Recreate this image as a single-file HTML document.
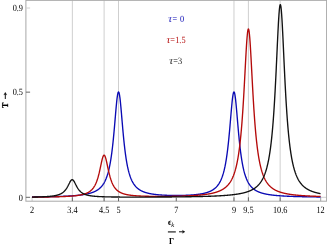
<!DOCTYPE html>
<html><head><meta charset="utf-8"><title>plot</title><style>html,body{margin:0;padding:0;background:#fff}body{width:327px;height:245px;overflow:hidden}</style></head><body>
<svg width="327" height="245" viewBox="0 0 327 245" style="display:block;will-change:transform">
<rect width="100%" height="100%" fill="#fff"/>
<line x1="72.35" x2="72.35" y1="0.35" y2="201.20" stroke="#cfcfcf" stroke-width="1"/>
<line x1="104.10" x2="104.10" y1="0.35" y2="201.20" stroke="#cfcfcf" stroke-width="1"/>
<line x1="118.53" x2="118.53" y1="0.35" y2="201.20" stroke="#cfcfcf" stroke-width="1"/>
<line x1="233.97" x2="233.97" y1="0.35" y2="201.20" stroke="#cfcfcf" stroke-width="1"/>
<line x1="248.40" x2="248.40" y1="0.35" y2="201.20" stroke="#cfcfcf" stroke-width="1"/>
<line x1="280.15" x2="280.15" y1="0.35" y2="201.20" stroke="#cfcfcf" stroke-width="1"/>
<line x1="32.10" x2="32.10" y1="197.30" y2="201.20" stroke="#cfcfcf" stroke-width="1"/>
<line x1="320.70" x2="320.70" y1="197.30" y2="201.20" stroke="#a0a0a0" stroke-width="1"/>
<line x1="320.55" x2="326.60" y1="197.30" y2="197.30" stroke="#cfcfcf" stroke-width="1"/>
<path d="M31.95 197.00 L32.09 197.00 L32.24 196.99 L32.38 196.99 L32.53 196.99 L32.67 196.99 L32.82 196.99 L32.96 196.99 L33.10 196.98 L33.25 196.98 L33.39 196.98 L33.54 196.98 L33.68 196.98 L33.83 196.98 L33.97 196.97 L34.11 196.97 L34.26 196.97 L34.40 196.97 L34.55 196.97 L34.69 196.96 L34.84 196.96 L34.98 196.96 L35.12 196.96 L35.27 196.96 L35.41 196.96 L35.56 196.95 L35.70 196.95 L35.85 196.95 L35.99 196.95 L36.13 196.95 L36.28 196.94 L36.42 196.94 L36.57 196.94 L36.71 196.94 L36.86 196.94 L37.00 196.93 L37.14 196.93 L37.29 196.93 L37.43 196.93 L37.58 196.93 L37.72 196.92 L37.87 196.92 L38.01 196.92 L38.15 196.92 L38.30 196.92 L38.44 196.91 L38.59 196.91 L38.73 196.91 L38.88 196.91 L39.02 196.91 L39.16 196.90 L39.31 196.90 L39.45 196.90 L39.60 196.90 L39.74 196.89 L39.89 196.89 L40.03 196.89 L40.18 196.89 L40.32 196.89 L40.46 196.88 L40.61 196.88 L40.75 196.88 L40.90 196.88 L41.04 196.87 L41.19 196.87 L41.33 196.87 L41.47 196.87 L41.62 196.87 L41.76 196.86 L41.91 196.86 L42.05 196.86 L42.20 196.86 L42.34 196.85 L42.48 196.85 L42.63 196.85 L42.77 196.85 L42.92 196.84 L43.06 196.84 L43.21 196.84 L43.35 196.84 L43.49 196.83 L43.64 196.83 L43.78 196.83 L43.93 196.83 L44.07 196.82 L44.22 196.82 L44.36 196.82 L44.50 196.82 L44.65 196.81 L44.79 196.81 L44.94 196.81 L45.08 196.81 L45.23 196.80 L45.37 196.80 L45.51 196.80 L45.66 196.79 L45.80 196.79 L45.95 196.79 L46.09 196.79 L46.24 196.78 L46.38 196.78 L46.52 196.78 L46.67 196.78 L46.81 196.77 L46.96 196.77 L47.10 196.77 L47.25 196.76 L47.39 196.76 L47.53 196.76 L47.68 196.75 L47.82 196.75 L47.97 196.75 L48.11 196.75 L48.26 196.74 L48.40 196.74 L48.54 196.74 L48.69 196.73 L48.83 196.73 L48.98 196.73 L49.12 196.72 L49.27 196.72 L49.41 196.72 L49.55 196.71 L49.70 196.71 L49.84 196.71 L49.99 196.70 L50.13 196.70 L50.28 196.70 L50.42 196.70 L50.56 196.69 L50.71 196.69 L50.85 196.69 L51.00 196.68 L51.14 196.68 L51.29 196.67 L51.43 196.67 L51.57 196.67 L51.72 196.66 L51.86 196.66 L52.01 196.66 L52.15 196.65 L52.30 196.65 L52.44 196.65 L52.58 196.64 L52.73 196.64 L52.87 196.64 L53.02 196.63 L53.16 196.63 L53.31 196.62 L53.45 196.62 L53.59 196.62 L53.74 196.61 L53.88 196.61 L54.03 196.61 L54.17 196.60 L54.32 196.60 L54.46 196.59 L54.61 196.59 L54.75 196.59 L54.89 196.58 L55.04 196.58 L55.18 196.57 L55.33 196.57 L55.47 196.57 L55.62 196.56 L55.76 196.56 L55.90 196.55 L56.05 196.55 L56.19 196.54 L56.34 196.54 L56.48 196.54 L56.63 196.53 L56.77 196.53 L56.91 196.52 L57.06 196.52 L57.20 196.51 L57.35 196.51 L57.49 196.50 L57.64 196.50 L57.78 196.50 L57.92 196.49 L58.07 196.49 L58.21 196.48 L58.36 196.48 L58.50 196.47 L58.65 196.47 L58.79 196.46 L58.93 196.46 L59.08 196.45 L59.22 196.45 L59.37 196.44 L59.51 196.44 L59.66 196.43 L59.80 196.43 L59.94 196.42 L60.09 196.42 L60.23 196.41 L60.38 196.41 L60.52 196.40 L60.67 196.40 L60.81 196.39 L60.95 196.39 L61.10 196.38 L61.24 196.37 L61.39 196.37 L61.53 196.36 L61.68 196.36 L61.82 196.35 L61.96 196.35 L62.11 196.34 L62.25 196.33 L62.40 196.33 L62.54 196.32 L62.69 196.32 L62.83 196.31 L62.97 196.31 L63.12 196.30 L63.26 196.29 L63.41 196.29 L63.55 196.28 L63.70 196.28 L63.84 196.27 L63.98 196.26 L64.13 196.26 L64.27 196.25 L64.42 196.24 L64.56 196.24 L64.71 196.23 L64.85 196.22 L64.99 196.22 L65.14 196.21 L65.28 196.20 L65.43 196.20 L65.57 196.19 L65.72 196.18 L65.86 196.18 L66.00 196.17 L66.15 196.16 L66.29 196.16 L66.44 196.15 L66.58 196.14 L66.73 196.13 L66.87 196.13 L67.01 196.12 L67.16 196.11 L67.30 196.10 L67.45 196.10 L67.59 196.09 L67.74 196.08 L67.88 196.07 L68.03 196.07 L68.17 196.06 L68.31 196.05 L68.46 196.04 L68.60 196.03 L68.75 196.02 L68.89 196.02 L69.04 196.01 L69.18 196.00 L69.32 195.99 L69.47 195.98 L69.61 195.97 L69.76 195.97 L69.90 195.96 L70.05 195.95 L70.19 195.94 L70.33 195.93 L70.48 195.92 L70.62 195.91 L70.77 195.90 L70.91 195.89 L71.06 195.88 L71.20 195.87 L71.34 195.87 L71.49 195.86 L71.63 195.85 L71.78 195.84 L71.92 195.83 L72.07 195.82 L72.21 195.81 L72.35 195.80 L72.50 195.79 L72.64 195.78 L72.79 195.76 L72.93 195.75 L73.08 195.74 L73.22 195.73 L73.36 195.72 L73.51 195.71 L73.65 195.70 L73.80 195.69 L73.94 195.68 L74.09 195.67 L74.23 195.65 L74.37 195.64 L74.52 195.63 L74.66 195.62 L74.81 195.61 L74.95 195.60 L75.10 195.58 L75.24 195.57 L75.38 195.56 L75.53 195.55 L75.67 195.53 L75.82 195.52 L75.96 195.51 L76.11 195.50 L76.25 195.48 L76.39 195.47 L76.54 195.46 L76.68 195.44 L76.83 195.43 L76.97 195.42 L77.12 195.40 L77.26 195.39 L77.40 195.37 L77.55 195.36 L77.69 195.34 L77.84 195.33 L77.98 195.31 L78.13 195.30 L78.27 195.28 L78.41 195.27 L78.56 195.25 L78.70 195.24 L78.85 195.22 L78.99 195.21 L79.14 195.19 L79.28 195.17 L79.42 195.16 L79.57 195.14 L79.71 195.12 L79.86 195.11 L80.00 195.09 L80.15 195.07 L80.29 195.06 L80.43 195.04 L80.58 195.02 L80.72 195.00 L80.87 194.98 L81.01 194.97 L81.16 194.95 L81.30 194.93 L81.44 194.91 L81.59 194.89 L81.73 194.87 L81.88 194.85 L82.02 194.83 L82.17 194.81 L82.31 194.79 L82.45 194.77 L82.60 194.75 L82.74 194.73 L82.89 194.71 L83.03 194.68 L83.18 194.66 L83.32 194.64 L83.47 194.62 L83.61 194.59 L83.75 194.57 L83.90 194.55 L84.04 194.53 L84.19 194.50 L84.33 194.48 L84.48 194.45 L84.62 194.43 L84.76 194.40 L84.91 194.38 L85.05 194.35 L85.20 194.33 L85.34 194.30 L85.49 194.27 L85.63 194.25 L85.77 194.22 L85.92 194.19 L86.06 194.16 L86.21 194.14 L86.35 194.11 L86.50 194.08 L86.64 194.05 L86.78 194.02 L86.93 193.99 L87.07 193.96 L87.22 193.93 L87.36 193.90 L87.51 193.86 L87.65 193.83 L87.79 193.80 L87.94 193.77 L88.08 193.73 L88.23 193.70 L88.37 193.66 L88.52 193.63 L88.66 193.59 L88.80 193.56 L88.95 193.52 L89.09 193.48 L89.24 193.45 L89.38 193.41 L89.53 193.37 L89.67 193.33 L89.81 193.29 L89.96 193.25 L90.10 193.21 L90.25 193.17 L90.39 193.13 L90.54 193.09 L90.68 193.04 L90.82 193.00 L90.97 192.95 L91.11 192.91 L91.26 192.86 L91.40 192.82 L91.55 192.77 L91.69 192.72 L91.83 192.67 L91.98 192.62 L92.12 192.57 L92.27 192.52 L92.41 192.47 L92.56 192.42 L92.70 192.37 L92.84 192.31 L92.99 192.26 L93.13 192.20 L93.28 192.14 L93.42 192.09 L93.57 192.03 L93.71 191.97 L93.85 191.91 L94.00 191.85 L94.14 191.78 L94.29 191.72 L94.43 191.66 L94.58 191.59 L94.72 191.52 L94.86 191.46 L95.01 191.39 L95.15 191.32 L95.30 191.25 L95.44 191.17 L95.59 191.10 L95.73 191.02 L95.87 190.95 L96.02 190.87 L96.16 190.79 L96.31 190.71 L96.45 190.63 L96.60 190.54 L96.74 190.46 L96.89 190.37 L97.03 190.28 L97.17 190.19 L97.32 190.10 L97.46 190.01 L97.61 189.92 L97.75 189.82 L97.90 189.72 L98.04 189.62 L98.18 189.52 L98.33 189.41 L98.47 189.31 L98.62 189.20 L98.76 189.09 L98.91 188.97 L99.05 188.86 L99.19 188.74 L99.34 188.62 L99.48 188.50 L99.63 188.38 L99.77 188.25 L99.92 188.12 L100.06 187.99 L100.20 187.85 L100.35 187.71 L100.49 187.57 L100.64 187.43 L100.78 187.28 L100.93 187.13 L101.07 186.98 L101.21 186.82 L101.36 186.66 L101.50 186.50 L101.65 186.33 L101.79 186.16 L101.94 185.98 L102.08 185.81 L102.22 185.62 L102.37 185.44 L102.51 185.24 L102.66 185.05 L102.80 184.85 L102.95 184.64 L103.09 184.43 L103.23 184.22 L103.38 184.00 L103.52 183.77 L103.67 183.54 L103.81 183.31 L103.96 183.07 L104.10 182.82 L104.24 182.56 L104.39 182.30 L104.53 182.04 L104.68 181.76 L104.82 181.48 L104.97 181.20 L105.11 180.90 L105.25 180.60 L105.40 180.29 L105.54 179.97 L105.69 179.64 L105.83 179.31 L105.98 178.96 L106.12 178.61 L106.26 178.24 L106.41 177.87 L106.55 177.49 L106.70 177.09 L106.84 176.69 L106.99 176.27 L107.13 175.85 L107.27 175.41 L107.42 174.95 L107.56 174.49 L107.71 174.01 L107.85 173.52 L108.00 173.01 L108.14 172.49 L108.28 171.96 L108.43 171.41 L108.57 170.84 L108.72 170.26 L108.86 169.66 L109.01 169.04 L109.15 168.40 L109.29 167.75 L109.44 167.07 L109.58 166.38 L109.73 165.66 L109.87 164.92 L110.02 164.16 L110.16 163.38 L110.30 162.58 L110.45 161.75 L110.59 160.89 L110.74 160.01 L110.88 159.11 L111.03 158.17 L111.17 157.21 L111.31 156.22 L111.46 155.21 L111.60 154.16 L111.75 153.08 L111.89 151.98 L112.04 150.84 L112.18 149.67 L112.33 148.46 L112.47 147.23 L112.61 145.96 L112.76 144.66 L112.90 143.33 L113.05 141.96 L113.19 140.56 L113.34 139.13 L113.48 137.67 L113.62 136.18 L113.77 134.65 L113.91 133.10 L114.06 131.52 L114.20 129.91 L114.35 128.28 L114.49 126.63 L114.63 124.96 L114.78 123.28 L114.92 121.58 L115.07 119.88 L115.21 118.17 L115.36 116.46 L115.50 114.75 L115.64 113.06 L115.79 111.38 L115.93 109.73 L116.08 108.11 L116.22 106.52 L116.37 104.98 L116.51 103.49 L116.65 102.06 L116.80 100.69 L116.94 99.40 L117.09 98.19 L117.23 97.07 L117.38 96.04 L117.52 95.12 L117.66 94.31 L117.81 93.61 L117.95 93.03 L118.10 92.58 L118.24 92.25 L118.39 92.05 L118.53 91.99 L118.67 92.05 L118.82 92.25 L118.96 92.57 L119.11 93.03 L119.25 93.60 L119.40 94.30 L119.54 95.11 L119.68 96.03 L119.83 97.06 L119.97 98.17 L120.12 99.38 L120.26 100.67 L120.41 102.04 L120.55 103.47 L120.69 104.96 L120.84 106.50 L120.98 108.09 L121.13 109.71 L121.27 111.36 L121.42 113.03 L121.56 114.73 L121.70 116.43 L121.85 118.14 L121.99 119.84 L122.14 121.55 L122.28 123.24 L122.43 124.93 L122.57 126.60 L122.71 128.25 L122.86 129.87 L123.00 131.48 L123.15 133.06 L123.29 134.61 L123.44 136.13 L123.58 137.62 L123.72 139.09 L123.87 140.52 L124.01 141.91 L124.16 143.28 L124.30 144.61 L124.45 145.91 L124.59 147.17 L124.73 148.41 L124.88 149.61 L125.02 150.78 L125.17 151.92 L125.31 153.02 L125.46 154.10 L125.60 155.14 L125.75 156.16 L125.89 157.15 L126.03 158.10 L126.18 159.04 L126.32 159.94 L126.47 160.82 L126.61 161.67 L126.76 162.50 L126.90 163.30 L127.04 164.09 L127.19 164.84 L127.33 165.58 L127.48 166.29 L127.62 166.99 L127.77 167.66 L127.91 168.32 L128.05 168.95 L128.20 169.57 L128.34 170.17 L128.49 170.75 L128.63 171.31 L128.78 171.86 L128.92 172.40 L129.06 172.92 L129.21 173.42 L129.35 173.91 L129.50 174.39 L129.64 174.85 L129.79 175.30 L129.93 175.74 L130.07 176.17 L130.22 176.58 L130.36 176.98 L130.51 177.38 L130.65 177.76 L130.80 178.13 L130.94 178.49 L131.08 178.84 L131.23 179.19 L131.37 179.52 L131.52 179.85 L131.66 180.16 L131.81 180.47 L131.95 180.78 L132.09 181.07 L132.24 181.36 L132.38 181.63 L132.53 181.91 L132.67 182.17 L132.82 182.43 L132.96 182.68 L133.10 182.93 L133.25 183.17 L133.39 183.40 L133.54 183.63 L133.68 183.86 L133.83 184.08 L133.97 184.29 L134.11 184.50 L134.26 184.70 L134.40 184.90 L134.55 185.09 L134.69 185.28 L134.84 185.47 L134.98 185.65 L135.12 185.83 L135.27 186.00 L135.41 186.17 L135.56 186.34 L135.70 186.50 L135.85 186.66 L135.99 186.81 L136.13 186.96 L136.28 187.11 L136.42 187.26 L136.57 187.40 L136.71 187.54 L136.86 187.68 L137.00 187.81 L137.14 187.94 L137.29 188.07 L137.43 188.19 L137.58 188.32 L137.72 188.44 L137.87 188.56 L138.01 188.67 L138.15 188.79 L138.30 188.90 L138.44 189.01 L138.59 189.11 L138.73 189.22 L138.88 189.32 L139.02 189.42 L139.16 189.52 L139.31 189.62 L139.45 189.71 L139.60 189.81 L139.74 189.90 L139.89 189.99 L140.03 190.08 L140.17 190.16 L140.32 190.25 L140.46 190.33 L140.61 190.41 L140.75 190.49 L140.90 190.57 L141.04 190.65 L141.19 190.73 L141.33 190.80 L141.47 190.87 L141.62 190.95 L141.76 191.02 L141.91 191.09 L142.05 191.16 L142.20 191.22 L142.34 191.29 L142.48 191.35 L142.63 191.42 L142.77 191.48 L142.92 191.54 L143.06 191.60 L143.21 191.66 L143.35 191.72 L143.49 191.78 L143.64 191.84 L143.78 191.89 L143.93 191.95 L144.07 192.00 L144.22 192.05 L144.36 192.11 L144.50 192.16 L144.65 192.21 L144.79 192.26 L144.94 192.31 L145.08 192.36 L145.23 192.40 L145.37 192.45 L145.51 192.50 L145.66 192.54 L145.80 192.59 L145.95 192.63 L146.09 192.67 L146.24 192.72 L146.38 192.76 L146.52 192.80 L146.67 192.84 L146.81 192.88 L146.96 192.92 L147.10 192.96 L147.25 193.00 L147.39 193.03 L147.53 193.07 L147.68 193.11 L147.82 193.14 L147.97 193.18 L148.11 193.21 L148.26 193.25 L148.40 193.28 L148.54 193.32 L148.69 193.35 L148.83 193.38 L148.98 193.41 L149.12 193.45 L149.27 193.48 L149.41 193.51 L149.55 193.54 L149.70 193.57 L149.84 193.60 L149.99 193.63 L150.13 193.65 L150.28 193.68 L150.42 193.71 L150.56 193.74 L150.71 193.76 L150.85 193.79 L151.00 193.82 L151.14 193.84 L151.29 193.87 L151.43 193.89 L151.57 193.92 L151.72 193.94 L151.86 193.97 L152.01 193.99 L152.15 194.01 L152.30 194.04 L152.44 194.06 L152.58 194.08 L152.73 194.10 L152.87 194.13 L153.02 194.15 L153.16 194.17 L153.31 194.19 L153.45 194.21 L153.59 194.23 L153.74 194.25 L153.88 194.27 L154.03 194.29 L154.17 194.31 L154.32 194.33 L154.46 194.35 L154.60 194.37 L154.75 194.39 L154.89 194.40 L155.04 194.42 L155.18 194.44 L155.33 194.46 L155.47 194.47 L155.62 194.49 L155.76 194.51 L155.90 194.52 L156.05 194.54 L156.19 194.56 L156.34 194.57 L156.48 194.59 L156.63 194.60 L156.77 194.62 L156.91 194.63 L157.06 194.65 L157.20 194.66 L157.35 194.68 L157.49 194.69 L157.64 194.71 L157.78 194.72 L157.92 194.73 L158.07 194.75 L158.21 194.76 L158.36 194.77 L158.50 194.79 L158.65 194.80 L158.79 194.81 L158.93 194.82 L159.08 194.84 L159.22 194.85 L159.37 194.86 L159.51 194.87 L159.66 194.88 L159.80 194.90 L159.94 194.91 L160.09 194.92 L160.23 194.93 L160.38 194.94 L160.52 194.95 L160.67 194.96 L160.81 194.97 L160.95 194.98 L161.10 194.99 L161.24 195.00 L161.39 195.01 L161.53 195.02 L161.68 195.03 L161.82 195.04 L161.96 195.05 L162.11 195.06 L162.25 195.07 L162.40 195.08 L162.54 195.09 L162.69 195.10 L162.83 195.10 L162.97 195.11 L163.12 195.12 L163.26 195.13 L163.41 195.14 L163.55 195.14 L163.70 195.15 L163.84 195.16 L163.98 195.17 L164.13 195.18 L164.27 195.18 L164.42 195.19 L164.56 195.20 L164.71 195.20 L164.85 195.21 L164.99 195.22 L165.14 195.22 L165.28 195.23 L165.43 195.24 L165.57 195.24 L165.72 195.25 L165.86 195.26 L166.00 195.26 L166.15 195.27 L166.29 195.27 L166.44 195.28 L166.58 195.29 L166.73 195.29 L166.87 195.30 L167.01 195.30 L167.16 195.31 L167.30 195.31 L167.45 195.32 L167.59 195.32 L167.74 195.33 L167.88 195.33 L168.02 195.34 L168.17 195.34 L168.31 195.35 L168.46 195.35 L168.60 195.35 L168.75 195.36 L168.89 195.36 L169.03 195.37 L169.18 195.37 L169.32 195.37 L169.47 195.38 L169.61 195.38 L169.76 195.39 L169.90 195.39 L170.05 195.39 L170.19 195.40 L170.33 195.40 L170.48 195.40 L170.62 195.41 L170.77 195.41 L170.91 195.41 L171.06 195.41 L171.20 195.42 L171.34 195.42 L171.49 195.42 L171.63 195.43 L171.78 195.43 L171.92 195.43 L172.07 195.43 L172.21 195.43 L172.35 195.44 L172.50 195.44 L172.64 195.44 L172.79 195.44 L172.93 195.44 L173.08 195.45 L173.22 195.45 L173.36 195.45 L173.51 195.45 L173.65 195.45 L173.80 195.45 L173.94 195.46 L174.09 195.46 L174.23 195.46 L174.37 195.46 L174.52 195.46 L174.66 195.46 L174.81 195.46 L174.95 195.46 L175.10 195.46 L175.24 195.46 L175.38 195.46 L175.53 195.46 L175.67 195.46 L175.82 195.46 L175.96 195.46 L176.11 195.46 L176.25 195.46 L176.39 195.46 L176.54 195.46 L176.68 195.46 L176.83 195.46 L176.97 195.46 L177.12 195.46 L177.26 195.46 L177.40 195.46 L177.55 195.46 L177.69 195.46 L177.84 195.46 L177.98 195.46 L178.13 195.46 L178.27 195.46 L178.41 195.46 L178.56 195.46 L178.70 195.45 L178.85 195.45 L178.99 195.45 L179.14 195.45 L179.28 195.45 L179.42 195.45 L179.57 195.44 L179.71 195.44 L179.86 195.44 L180.00 195.44 L180.15 195.44 L180.29 195.43 L180.43 195.43 L180.58 195.43 L180.72 195.43 L180.87 195.43 L181.01 195.42 L181.16 195.42 L181.30 195.42 L181.44 195.41 L181.59 195.41 L181.73 195.41 L181.88 195.41 L182.02 195.40 L182.17 195.40 L182.31 195.40 L182.45 195.39 L182.60 195.39 L182.74 195.39 L182.89 195.38 L183.03 195.38 L183.18 195.37 L183.32 195.37 L183.46 195.37 L183.61 195.36 L183.75 195.36 L183.90 195.35 L184.04 195.35 L184.19 195.35 L184.33 195.34 L184.48 195.34 L184.62 195.33 L184.76 195.33 L184.91 195.32 L185.05 195.32 L185.20 195.31 L185.34 195.31 L185.49 195.30 L185.63 195.30 L185.77 195.29 L185.92 195.29 L186.06 195.28 L186.21 195.27 L186.35 195.27 L186.50 195.26 L186.64 195.26 L186.78 195.25 L186.93 195.24 L187.07 195.24 L187.22 195.23 L187.36 195.22 L187.51 195.22 L187.65 195.21 L187.79 195.20 L187.94 195.20 L188.08 195.19 L188.23 195.18 L188.37 195.18 L188.52 195.17 L188.66 195.16 L188.80 195.15 L188.95 195.14 L189.09 195.14 L189.24 195.13 L189.38 195.12 L189.53 195.11 L189.67 195.10 L189.81 195.10 L189.96 195.09 L190.10 195.08 L190.25 195.07 L190.39 195.06 L190.54 195.05 L190.68 195.04 L190.82 195.03 L190.97 195.02 L191.11 195.01 L191.26 195.00 L191.40 194.99 L191.55 194.98 L191.69 194.97 L191.83 194.96 L191.98 194.95 L192.12 194.94 L192.27 194.93 L192.41 194.92 L192.56 194.91 L192.70 194.90 L192.84 194.88 L192.99 194.87 L193.13 194.86 L193.28 194.85 L193.42 194.84 L193.57 194.82 L193.71 194.81 L193.85 194.80 L194.00 194.79 L194.14 194.77 L194.29 194.76 L194.43 194.75 L194.58 194.73 L194.72 194.72 L194.86 194.71 L195.01 194.69 L195.15 194.68 L195.30 194.66 L195.44 194.65 L195.59 194.63 L195.73 194.62 L195.87 194.60 L196.02 194.59 L196.16 194.57 L196.31 194.56 L196.45 194.54 L196.60 194.52 L196.74 194.51 L196.88 194.49 L197.03 194.47 L197.17 194.46 L197.32 194.44 L197.46 194.42 L197.61 194.40 L197.75 194.39 L197.89 194.37 L198.04 194.35 L198.18 194.33 L198.33 194.31 L198.47 194.29 L198.62 194.27 L198.76 194.25 L198.91 194.23 L199.05 194.21 L199.19 194.19 L199.34 194.17 L199.48 194.15 L199.63 194.13 L199.77 194.10 L199.92 194.08 L200.06 194.06 L200.20 194.04 L200.35 194.01 L200.49 193.99 L200.64 193.97 L200.78 193.94 L200.93 193.92 L201.07 193.89 L201.21 193.87 L201.36 193.84 L201.50 193.82 L201.65 193.79 L201.79 193.76 L201.94 193.74 L202.08 193.71 L202.22 193.68 L202.37 193.65 L202.51 193.63 L202.66 193.60 L202.80 193.57 L202.95 193.54 L203.09 193.51 L203.23 193.48 L203.38 193.45 L203.52 193.41 L203.67 193.38 L203.81 193.35 L203.96 193.32 L204.10 193.28 L204.24 193.25 L204.39 193.21 L204.53 193.18 L204.68 193.14 L204.82 193.11 L204.97 193.07 L205.11 193.03 L205.25 193.00 L205.40 192.96 L205.54 192.92 L205.69 192.88 L205.83 192.84 L205.98 192.80 L206.12 192.76 L206.26 192.72 L206.41 192.67 L206.55 192.63 L206.70 192.59 L206.84 192.54 L206.99 192.50 L207.13 192.45 L207.27 192.40 L207.42 192.36 L207.56 192.31 L207.71 192.26 L207.85 192.21 L208.00 192.16 L208.14 192.11 L208.28 192.05 L208.43 192.00 L208.57 191.95 L208.72 191.89 L208.86 191.84 L209.01 191.78 L209.15 191.72 L209.29 191.66 L209.44 191.60 L209.58 191.54 L209.73 191.48 L209.87 191.42 L210.02 191.35 L210.16 191.29 L210.30 191.22 L210.45 191.16 L210.59 191.09 L210.74 191.02 L210.88 190.95 L211.03 190.87 L211.17 190.80 L211.31 190.73 L211.46 190.65 L211.60 190.57 L211.75 190.49 L211.89 190.41 L212.04 190.33 L212.18 190.25 L212.32 190.16 L212.47 190.08 L212.61 189.99 L212.76 189.90 L212.90 189.81 L213.05 189.71 L213.19 189.62 L213.34 189.52 L213.48 189.42 L213.62 189.32 L213.77 189.22 L213.91 189.11 L214.06 189.01 L214.20 188.90 L214.35 188.79 L214.49 188.67 L214.63 188.56 L214.78 188.44 L214.92 188.32 L215.07 188.19 L215.21 188.07 L215.36 187.94 L215.50 187.81 L215.64 187.68 L215.79 187.54 L215.93 187.40 L216.08 187.26 L216.22 187.11 L216.37 186.96 L216.51 186.81 L216.65 186.66 L216.80 186.50 L216.94 186.34 L217.09 186.17 L217.23 186.00 L217.38 185.83 L217.52 185.65 L217.66 185.47 L217.81 185.28 L217.95 185.09 L218.10 184.90 L218.24 184.70 L218.39 184.50 L218.53 184.29 L218.67 184.08 L218.82 183.86 L218.96 183.63 L219.11 183.40 L219.25 183.17 L219.40 182.93 L219.54 182.68 L219.68 182.43 L219.83 182.17 L219.97 181.91 L220.12 181.63 L220.26 181.36 L220.41 181.07 L220.55 180.78 L220.69 180.47 L220.84 180.16 L220.98 179.85 L221.13 179.52 L221.27 179.19 L221.42 178.84 L221.56 178.49 L221.70 178.13 L221.85 177.76 L221.99 177.38 L222.14 176.98 L222.28 176.58 L222.43 176.17 L222.57 175.74 L222.71 175.30 L222.86 174.85 L223.00 174.39 L223.15 173.91 L223.29 173.42 L223.44 172.92 L223.58 172.40 L223.72 171.86 L223.87 171.31 L224.01 170.75 L224.16 170.17 L224.30 169.57 L224.45 168.95 L224.59 168.32 L224.73 167.66 L224.88 166.99 L225.02 166.29 L225.17 165.58 L225.31 164.84 L225.46 164.09 L225.60 163.30 L225.74 162.50 L225.89 161.67 L226.03 160.82 L226.18 159.94 L226.32 159.04 L226.47 158.10 L226.61 157.15 L226.75 156.16 L226.90 155.14 L227.04 154.10 L227.19 153.02 L227.33 151.92 L227.48 150.78 L227.62 149.61 L227.77 148.41 L227.91 147.17 L228.05 145.91 L228.20 144.61 L228.34 143.28 L228.49 141.91 L228.63 140.52 L228.78 139.09 L228.92 137.62 L229.06 136.13 L229.21 134.61 L229.35 133.06 L229.50 131.48 L229.64 129.87 L229.79 128.25 L229.93 126.60 L230.07 124.93 L230.22 123.24 L230.36 121.55 L230.51 119.84 L230.65 118.14 L230.80 116.43 L230.94 114.73 L231.08 113.03 L231.23 111.36 L231.37 109.71 L231.52 108.09 L231.66 106.50 L231.81 104.96 L231.95 103.47 L232.09 102.04 L232.24 100.67 L232.38 99.38 L232.53 98.17 L232.67 97.06 L232.82 96.03 L232.96 95.11 L233.10 94.30 L233.25 93.60 L233.39 93.03 L233.54 92.57 L233.68 92.25 L233.83 92.05 L233.97 91.99 L234.11 92.05 L234.26 92.25 L234.40 92.58 L234.55 93.03 L234.69 93.61 L234.84 94.31 L234.98 95.12 L235.12 96.04 L235.27 97.07 L235.41 98.19 L235.56 99.40 L235.70 100.69 L235.85 102.06 L235.99 103.49 L236.13 104.98 L236.28 106.52 L236.42 108.11 L236.57 109.73 L236.71 111.38 L236.86 113.06 L237.00 114.75 L237.14 116.46 L237.29 118.17 L237.43 119.88 L237.58 121.58 L237.72 123.28 L237.87 124.96 L238.01 126.63 L238.15 128.28 L238.30 129.91 L238.44 131.52 L238.59 133.10 L238.73 134.65 L238.88 136.18 L239.02 137.67 L239.16 139.13 L239.31 140.56 L239.45 141.96 L239.60 143.33 L239.74 144.66 L239.89 145.96 L240.03 147.23 L240.17 148.46 L240.32 149.67 L240.46 150.84 L240.61 151.98 L240.75 153.08 L240.90 154.16 L241.04 155.21 L241.18 156.22 L241.33 157.21 L241.47 158.17 L241.62 159.11 L241.76 160.01 L241.91 160.89 L242.05 161.75 L242.20 162.58 L242.34 163.38 L242.48 164.16 L242.63 164.92 L242.77 165.66 L242.92 166.38 L243.06 167.07 L243.21 167.75 L243.35 168.40 L243.49 169.04 L243.64 169.66 L243.78 170.26 L243.93 170.84 L244.07 171.41 L244.22 171.96 L244.36 172.49 L244.50 173.01 L244.65 173.52 L244.79 174.01 L244.94 174.49 L245.08 174.95 L245.23 175.41 L245.37 175.85 L245.51 176.27 L245.66 176.69 L245.80 177.09 L245.95 177.49 L246.09 177.87 L246.24 178.24 L246.38 178.61 L246.52 178.96 L246.67 179.31 L246.81 179.64 L246.96 179.97 L247.10 180.29 L247.25 180.60 L247.39 180.90 L247.53 181.20 L247.68 181.48 L247.82 181.76 L247.97 182.04 L248.11 182.30 L248.26 182.56 L248.40 182.82 L248.54 183.07 L248.69 183.31 L248.83 183.54 L248.98 183.77 L249.12 184.00 L249.27 184.22 L249.41 184.43 L249.55 184.64 L249.70 184.85 L249.84 185.05 L249.99 185.24 L250.13 185.44 L250.28 185.62 L250.42 185.81 L250.56 185.98 L250.71 186.16 L250.85 186.33 L251.00 186.50 L251.14 186.66 L251.29 186.82 L251.43 186.98 L251.57 187.13 L251.72 187.28 L251.86 187.43 L252.01 187.57 L252.15 187.71 L252.30 187.85 L252.44 187.99 L252.58 188.12 L252.73 188.25 L252.87 188.38 L253.02 188.50 L253.16 188.62 L253.31 188.74 L253.45 188.86 L253.59 188.97 L253.74 189.09 L253.88 189.20 L254.03 189.31 L254.17 189.41 L254.32 189.52 L254.46 189.62 L254.60 189.72 L254.75 189.82 L254.89 189.92 L255.04 190.01 L255.18 190.10 L255.33 190.19 L255.47 190.28 L255.61 190.37 L255.76 190.46 L255.90 190.54 L256.05 190.63 L256.19 190.71 L256.34 190.79 L256.48 190.87 L256.63 190.95 L256.77 191.02 L256.91 191.10 L257.06 191.17 L257.20 191.25 L257.35 191.32 L257.49 191.39 L257.64 191.46 L257.78 191.52 L257.92 191.59 L258.07 191.66 L258.21 191.72 L258.36 191.78 L258.50 191.85 L258.65 191.91 L258.79 191.97 L258.93 192.03 L259.08 192.09 L259.22 192.14 L259.37 192.20 L259.51 192.26 L259.66 192.31 L259.80 192.37 L259.94 192.42 L260.09 192.47 L260.23 192.52 L260.38 192.57 L260.52 192.62 L260.67 192.67 L260.81 192.72 L260.95 192.77 L261.10 192.82 L261.24 192.86 L261.39 192.91 L261.53 192.95 L261.68 193.00 L261.82 193.04 L261.96 193.09 L262.11 193.13 L262.25 193.17 L262.40 193.21 L262.54 193.25 L262.69 193.29 L262.83 193.33 L262.97 193.37 L263.12 193.41 L263.26 193.45 L263.41 193.48 L263.55 193.52 L263.70 193.56 L263.84 193.59 L263.98 193.63 L264.13 193.66 L264.27 193.70 L264.42 193.73 L264.56 193.77 L264.71 193.80 L264.85 193.83 L264.99 193.86 L265.14 193.90 L265.28 193.93 L265.43 193.96 L265.57 193.99 L265.72 194.02 L265.86 194.05 L266.00 194.08 L266.15 194.11 L266.29 194.14 L266.44 194.16 L266.58 194.19 L266.73 194.22 L266.87 194.25 L267.01 194.27 L267.16 194.30 L267.30 194.33 L267.45 194.35 L267.59 194.38 L267.74 194.40 L267.88 194.43 L268.02 194.45 L268.17 194.48 L268.31 194.50 L268.46 194.53 L268.60 194.55 L268.75 194.57 L268.89 194.59 L269.03 194.62 L269.18 194.64 L269.32 194.66 L269.47 194.68 L269.61 194.71 L269.76 194.73 L269.90 194.75 L270.05 194.77 L270.19 194.79 L270.33 194.81 L270.48 194.83 L270.62 194.85 L270.77 194.87 L270.91 194.89 L271.06 194.91 L271.20 194.93 L271.34 194.95 L271.49 194.97 L271.63 194.98 L271.78 195.00 L271.92 195.02 L272.07 195.04 L272.21 195.06 L272.35 195.07 L272.50 195.09 L272.64 195.11 L272.79 195.12 L272.93 195.14 L273.08 195.16 L273.22 195.17 L273.36 195.19 L273.51 195.21 L273.65 195.22 L273.80 195.24 L273.94 195.25 L274.09 195.27 L274.23 195.28 L274.37 195.30 L274.52 195.31 L274.66 195.33 L274.81 195.34 L274.95 195.36 L275.10 195.37 L275.24 195.39 L275.38 195.40 L275.53 195.42 L275.67 195.43 L275.82 195.44 L275.96 195.46 L276.11 195.47 L276.25 195.48 L276.39 195.50 L276.54 195.51 L276.68 195.52 L276.83 195.53 L276.97 195.55 L277.12 195.56 L277.26 195.57 L277.40 195.58 L277.55 195.60 L277.69 195.61 L277.84 195.62 L277.98 195.63 L278.13 195.64 L278.27 195.65 L278.41 195.67 L278.56 195.68 L278.70 195.69 L278.85 195.70 L278.99 195.71 L279.14 195.72 L279.28 195.73 L279.42 195.74 L279.57 195.75 L279.71 195.76 L279.86 195.78 L280.00 195.79 L280.15 195.80 L280.29 195.81 L280.43 195.82 L280.58 195.83 L280.72 195.84 L280.87 195.85 L281.01 195.86 L281.16 195.87 L281.30 195.87 L281.44 195.88 L281.59 195.89 L281.73 195.90 L281.88 195.91 L282.02 195.92 L282.17 195.93 L282.31 195.94 L282.45 195.95 L282.60 195.96 L282.74 195.97 L282.89 195.97 L283.03 195.98 L283.18 195.99 L283.32 196.00 L283.46 196.01 L283.61 196.02 L283.75 196.02 L283.90 196.03 L284.04 196.04 L284.19 196.05 L284.33 196.06 L284.48 196.07 L284.62 196.07 L284.76 196.08 L284.91 196.09 L285.05 196.10 L285.20 196.10 L285.34 196.11 L285.49 196.12 L285.63 196.13 L285.77 196.13 L285.92 196.14 L286.06 196.15 L286.21 196.16 L286.35 196.16 L286.50 196.17 L286.64 196.18 L286.78 196.18 L286.93 196.19 L287.07 196.20 L287.22 196.20 L287.36 196.21 L287.51 196.22 L287.65 196.22 L287.79 196.23 L287.94 196.24 L288.08 196.24 L288.23 196.25 L288.37 196.26 L288.52 196.26 L288.66 196.27 L288.80 196.28 L288.95 196.28 L289.09 196.29 L289.24 196.29 L289.38 196.30 L289.53 196.31 L289.67 196.31 L289.81 196.32 L289.96 196.32 L290.10 196.33 L290.25 196.33 L290.39 196.34 L290.54 196.35 L290.68 196.35 L290.82 196.36 L290.97 196.36 L291.11 196.37 L291.26 196.37 L291.40 196.38 L291.55 196.39 L291.69 196.39 L291.83 196.40 L291.98 196.40 L292.12 196.41 L292.27 196.41 L292.41 196.42 L292.56 196.42 L292.70 196.43 L292.84 196.43 L292.99 196.44 L293.13 196.44 L293.28 196.45 L293.42 196.45 L293.57 196.46 L293.71 196.46 L293.85 196.47 L294.00 196.47 L294.14 196.48 L294.29 196.48 L294.43 196.49 L294.58 196.49 L294.72 196.50 L294.86 196.50 L295.01 196.50 L295.15 196.51 L295.30 196.51 L295.44 196.52 L295.59 196.52 L295.73 196.53 L295.87 196.53 L296.02 196.54 L296.16 196.54 L296.31 196.54 L296.45 196.55 L296.60 196.55 L296.74 196.56 L296.88 196.56 L297.03 196.57 L297.17 196.57 L297.32 196.57 L297.46 196.58 L297.61 196.58 L297.75 196.59 L297.89 196.59 L298.04 196.59 L298.18 196.60 L298.33 196.60 L298.47 196.61 L298.62 196.61 L298.76 196.61 L298.90 196.62 L299.05 196.62 L299.19 196.62 L299.34 196.63 L299.48 196.63 L299.63 196.64 L299.77 196.64 L299.92 196.64 L300.06 196.65 L300.20 196.65 L300.35 196.65 L300.49 196.66 L300.64 196.66 L300.78 196.66 L300.93 196.67 L301.07 196.67 L301.21 196.67 L301.36 196.68 L301.50 196.68 L301.65 196.69 L301.79 196.69 L301.94 196.69 L302.08 196.70 L302.22 196.70 L302.37 196.70 L302.51 196.70 L302.66 196.71 L302.80 196.71 L302.95 196.71 L303.09 196.72 L303.23 196.72 L303.38 196.72 L303.52 196.73 L303.67 196.73 L303.81 196.73 L303.96 196.74 L304.10 196.74 L304.24 196.74 L304.39 196.75 L304.53 196.75 L304.68 196.75 L304.82 196.75 L304.97 196.76 L305.11 196.76 L305.25 196.76 L305.40 196.77 L305.54 196.77 L305.69 196.77 L305.83 196.78 L305.98 196.78 L306.12 196.78 L306.26 196.78 L306.41 196.79 L306.55 196.79 L306.70 196.79 L306.84 196.79 L306.99 196.80 L307.13 196.80 L307.27 196.80 L307.42 196.81 L307.56 196.81 L307.71 196.81 L307.85 196.81 L308.00 196.82 L308.14 196.82 L308.28 196.82 L308.43 196.82 L308.57 196.83 L308.72 196.83 L308.86 196.83 L309.01 196.83 L309.15 196.84 L309.29 196.84 L309.44 196.84 L309.58 196.84 L309.73 196.85 L309.87 196.85 L310.02 196.85 L310.16 196.85 L310.30 196.86 L310.45 196.86 L310.59 196.86 L310.74 196.86 L310.88 196.87 L311.03 196.87 L311.17 196.87 L311.31 196.87 L311.46 196.87 L311.60 196.88 L311.75 196.88 L311.89 196.88 L312.04 196.88 L312.18 196.89 L312.32 196.89 L312.47 196.89 L312.61 196.89 L312.76 196.89 L312.90 196.90 L313.05 196.90 L313.19 196.90 L313.33 196.90 L313.48 196.91 L313.62 196.91 L313.77 196.91 L313.91 196.91 L314.06 196.91 L314.20 196.92 L314.35 196.92 L314.49 196.92 L314.63 196.92 L314.78 196.92 L314.92 196.93 L315.07 196.93 L315.21 196.93 L315.36 196.93 L315.50 196.93 L315.64 196.94 L315.79 196.94 L315.93 196.94 L316.08 196.94 L316.22 196.94 L316.37 196.95 L316.51 196.95 L316.65 196.95 L316.80 196.95 L316.94 196.95 L317.09 196.96 L317.23 196.96 L317.38 196.96 L317.52 196.96 L317.66 196.96 L317.81 196.96 L317.95 196.97 L318.10 196.97 L318.24 196.97 L318.39 196.97 L318.53 196.97 L318.67 196.98 L318.82 196.98 L318.96 196.98 L319.11 196.98 L319.25 196.98 L319.40 196.98 L319.54 196.99 L319.68 196.99 L319.83 196.99 L319.97 196.99 L320.12 196.99 L320.26 196.99 L320.41 197.00 L320.55 197.00" fill="none" stroke="#0a0ab4" stroke-width="1.35" stroke-linejoin="round"/>
<path d="M31.95 197.16 L32.09 197.16 L32.24 197.16 L32.38 197.16 L32.53 197.16 L32.67 197.16 L32.82 197.15 L32.96 197.15 L33.10 197.15 L33.25 197.15 L33.39 197.15 L33.54 197.15 L33.68 197.15 L33.83 197.15 L33.97 197.14 L34.11 197.14 L34.26 197.14 L34.40 197.14 L34.55 197.14 L34.69 197.14 L34.84 197.14 L34.98 197.14 L35.12 197.13 L35.27 197.13 L35.41 197.13 L35.56 197.13 L35.70 197.13 L35.85 197.13 L35.99 197.13 L36.13 197.12 L36.28 197.12 L36.42 197.12 L36.57 197.12 L36.71 197.12 L36.86 197.12 L37.00 197.12 L37.14 197.11 L37.29 197.11 L37.43 197.11 L37.58 197.11 L37.72 197.11 L37.87 197.11 L38.01 197.10 L38.15 197.10 L38.30 197.10 L38.44 197.10 L38.59 197.10 L38.73 197.10 L38.88 197.09 L39.02 197.09 L39.16 197.09 L39.31 197.09 L39.45 197.09 L39.60 197.09 L39.74 197.09 L39.89 197.08 L40.03 197.08 L40.18 197.08 L40.32 197.08 L40.46 197.08 L40.61 197.07 L40.75 197.07 L40.90 197.07 L41.04 197.07 L41.19 197.07 L41.33 197.07 L41.47 197.06 L41.62 197.06 L41.76 197.06 L41.91 197.06 L42.05 197.06 L42.20 197.06 L42.34 197.05 L42.48 197.05 L42.63 197.05 L42.77 197.05 L42.92 197.05 L43.06 197.04 L43.21 197.04 L43.35 197.04 L43.49 197.04 L43.64 197.04 L43.78 197.03 L43.93 197.03 L44.07 197.03 L44.22 197.03 L44.36 197.03 L44.50 197.02 L44.65 197.02 L44.79 197.02 L44.94 197.02 L45.08 197.02 L45.23 197.01 L45.37 197.01 L45.51 197.01 L45.66 197.01 L45.80 197.00 L45.95 197.00 L46.09 197.00 L46.24 197.00 L46.38 197.00 L46.52 196.99 L46.67 196.99 L46.81 196.99 L46.96 196.99 L47.10 196.98 L47.25 196.98 L47.39 196.98 L47.53 196.98 L47.68 196.97 L47.82 196.97 L47.97 196.97 L48.11 196.97 L48.26 196.96 L48.40 196.96 L48.54 196.96 L48.69 196.96 L48.83 196.95 L48.98 196.95 L49.12 196.95 L49.27 196.95 L49.41 196.94 L49.55 196.94 L49.70 196.94 L49.84 196.94 L49.99 196.93 L50.13 196.93 L50.28 196.93 L50.42 196.93 L50.56 196.92 L50.71 196.92 L50.85 196.92 L51.00 196.91 L51.14 196.91 L51.29 196.91 L51.43 196.91 L51.57 196.90 L51.72 196.90 L51.86 196.90 L52.01 196.89 L52.15 196.89 L52.30 196.89 L52.44 196.88 L52.58 196.88 L52.73 196.88 L52.87 196.88 L53.02 196.87 L53.16 196.87 L53.31 196.87 L53.45 196.86 L53.59 196.86 L53.74 196.86 L53.88 196.85 L54.03 196.85 L54.17 196.85 L54.32 196.84 L54.46 196.84 L54.61 196.84 L54.75 196.83 L54.89 196.83 L55.04 196.82 L55.18 196.82 L55.33 196.82 L55.47 196.81 L55.62 196.81 L55.76 196.81 L55.90 196.80 L56.05 196.80 L56.19 196.80 L56.34 196.79 L56.48 196.79 L56.63 196.78 L56.77 196.78 L56.91 196.78 L57.06 196.77 L57.20 196.77 L57.35 196.76 L57.49 196.76 L57.64 196.76 L57.78 196.75 L57.92 196.75 L58.07 196.74 L58.21 196.74 L58.36 196.73 L58.50 196.73 L58.65 196.73 L58.79 196.72 L58.93 196.72 L59.08 196.71 L59.22 196.71 L59.37 196.70 L59.51 196.70 L59.66 196.69 L59.80 196.69 L59.94 196.68 L60.09 196.68 L60.23 196.67 L60.38 196.67 L60.52 196.66 L60.67 196.66 L60.81 196.65 L60.95 196.65 L61.10 196.64 L61.24 196.64 L61.39 196.63 L61.53 196.63 L61.68 196.62 L61.82 196.62 L61.96 196.61 L62.11 196.61 L62.25 196.60 L62.40 196.60 L62.54 196.59 L62.69 196.58 L62.83 196.58 L62.97 196.57 L63.12 196.57 L63.26 196.56 L63.41 196.56 L63.55 196.55 L63.70 196.54 L63.84 196.54 L63.98 196.53 L64.13 196.52 L64.27 196.52 L64.42 196.51 L64.56 196.51 L64.71 196.50 L64.85 196.49 L64.99 196.49 L65.14 196.48 L65.28 196.47 L65.43 196.46 L65.57 196.46 L65.72 196.45 L65.86 196.44 L66.00 196.44 L66.15 196.43 L66.29 196.42 L66.44 196.41 L66.58 196.41 L66.73 196.40 L66.87 196.39 L67.01 196.38 L67.16 196.38 L67.30 196.37 L67.45 196.36 L67.59 196.35 L67.74 196.34 L67.88 196.33 L68.03 196.33 L68.17 196.32 L68.31 196.31 L68.46 196.30 L68.60 196.29 L68.75 196.28 L68.89 196.27 L69.04 196.26 L69.18 196.26 L69.32 196.25 L69.47 196.24 L69.61 196.23 L69.76 196.22 L69.90 196.21 L70.05 196.20 L70.19 196.19 L70.33 196.18 L70.48 196.17 L70.62 196.16 L70.77 196.15 L70.91 196.14 L71.06 196.12 L71.20 196.11 L71.34 196.10 L71.49 196.09 L71.63 196.08 L71.78 196.07 L71.92 196.06 L72.07 196.05 L72.21 196.03 L72.35 196.02 L72.50 196.01 L72.64 196.00 L72.79 195.98 L72.93 195.97 L73.08 195.96 L73.22 195.95 L73.36 195.93 L73.51 195.92 L73.65 195.91 L73.80 195.89 L73.94 195.88 L74.09 195.86 L74.23 195.85 L74.37 195.83 L74.52 195.82 L74.66 195.80 L74.81 195.79 L74.95 195.77 L75.10 195.76 L75.24 195.74 L75.38 195.73 L75.53 195.71 L75.67 195.69 L75.82 195.68 L75.96 195.66 L76.11 195.64 L76.25 195.63 L76.39 195.61 L76.54 195.59 L76.68 195.57 L76.83 195.55 L76.97 195.54 L77.12 195.52 L77.26 195.50 L77.40 195.48 L77.55 195.46 L77.69 195.44 L77.84 195.42 L77.98 195.40 L78.13 195.37 L78.27 195.35 L78.41 195.33 L78.56 195.31 L78.70 195.29 L78.85 195.26 L78.99 195.24 L79.14 195.22 L79.28 195.19 L79.42 195.17 L79.57 195.14 L79.71 195.12 L79.86 195.09 L80.00 195.07 L80.15 195.04 L80.29 195.01 L80.43 194.99 L80.58 194.96 L80.72 194.93 L80.87 194.90 L81.01 194.87 L81.16 194.84 L81.30 194.81 L81.44 194.78 L81.59 194.75 L81.73 194.72 L81.88 194.69 L82.02 194.65 L82.17 194.62 L82.31 194.58 L82.45 194.55 L82.60 194.51 L82.74 194.48 L82.89 194.44 L83.03 194.40 L83.18 194.37 L83.32 194.33 L83.47 194.29 L83.61 194.25 L83.75 194.21 L83.90 194.16 L84.04 194.12 L84.19 194.08 L84.33 194.03 L84.48 193.99 L84.62 193.94 L84.76 193.89 L84.91 193.85 L85.05 193.80 L85.20 193.75 L85.34 193.70 L85.49 193.64 L85.63 193.59 L85.77 193.54 L85.92 193.48 L86.06 193.42 L86.21 193.37 L86.35 193.31 L86.50 193.25 L86.64 193.19 L86.78 193.12 L86.93 193.06 L87.07 192.99 L87.22 192.93 L87.36 192.86 L87.51 192.79 L87.65 192.72 L87.79 192.64 L87.94 192.57 L88.08 192.49 L88.23 192.41 L88.37 192.33 L88.52 192.25 L88.66 192.17 L88.80 192.08 L88.95 191.99 L89.09 191.90 L89.24 191.81 L89.38 191.71 L89.53 191.62 L89.67 191.52 L89.81 191.42 L89.96 191.31 L90.10 191.20 L90.25 191.10 L90.39 190.98 L90.54 190.87 L90.68 190.75 L90.82 190.63 L90.97 190.50 L91.11 190.38 L91.26 190.24 L91.40 190.11 L91.55 189.97 L91.69 189.83 L91.83 189.68 L91.98 189.54 L92.12 189.38 L92.27 189.22 L92.41 189.06 L92.56 188.90 L92.70 188.72 L92.84 188.55 L92.99 188.37 L93.13 188.18 L93.28 187.99 L93.42 187.79 L93.57 187.59 L93.71 187.38 L93.85 187.17 L94.00 186.95 L94.14 186.72 L94.29 186.49 L94.43 186.25 L94.58 186.00 L94.72 185.74 L94.86 185.48 L95.01 185.21 L95.15 184.93 L95.30 184.65 L95.44 184.35 L95.59 184.05 L95.73 183.73 L95.87 183.41 L96.02 183.08 L96.16 182.74 L96.31 182.38 L96.45 182.02 L96.60 181.65 L96.74 181.26 L96.89 180.87 L97.03 180.46 L97.17 180.04 L97.32 179.61 L97.46 179.17 L97.61 178.71 L97.75 178.24 L97.90 177.76 L98.04 177.27 L98.18 176.76 L98.33 176.24 L98.47 175.71 L98.62 175.16 L98.76 174.60 L98.91 174.03 L99.05 173.44 L99.19 172.85 L99.34 172.24 L99.48 171.61 L99.63 170.98 L99.77 170.34 L99.92 169.69 L100.06 169.03 L100.20 168.36 L100.35 167.68 L100.49 167.01 L100.64 166.32 L100.78 165.64 L100.93 164.95 L101.07 164.27 L101.21 163.60 L101.36 162.92 L101.50 162.26 L101.65 161.61 L101.79 160.98 L101.94 160.36 L102.08 159.76 L102.22 159.19 L102.37 158.64 L102.51 158.13 L102.66 157.64 L102.80 157.20 L102.95 156.79 L103.09 156.42 L103.23 156.09 L103.38 155.81 L103.52 155.58 L103.67 155.40 L103.81 155.27 L103.96 155.19 L104.10 155.16 L104.24 155.19 L104.39 155.26 L104.53 155.39 L104.68 155.58 L104.82 155.81 L104.97 156.08 L105.11 156.41 L105.25 156.78 L105.40 157.19 L105.54 157.63 L105.69 158.12 L105.83 158.63 L105.98 159.18 L106.12 159.75 L106.26 160.35 L106.41 160.96 L106.55 161.60 L106.70 162.24 L106.84 162.90 L106.99 163.57 L107.13 164.25 L107.27 164.93 L107.42 165.61 L107.56 166.30 L107.71 166.98 L107.85 167.66 L108.00 168.33 L108.14 169.00 L108.28 169.66 L108.43 170.31 L108.57 170.95 L108.72 171.58 L108.86 172.20 L109.01 172.81 L109.15 173.41 L109.29 173.99 L109.44 174.56 L109.58 175.12 L109.73 175.67 L109.87 176.20 L110.02 176.72 L110.16 177.22 L110.30 177.72 L110.45 178.20 L110.59 178.66 L110.74 179.12 L110.88 179.56 L111.03 179.99 L111.17 180.41 L111.31 180.81 L111.46 181.21 L111.60 181.59 L111.75 181.96 L111.89 182.33 L112.04 182.68 L112.18 183.02 L112.33 183.35 L112.47 183.67 L112.61 183.98 L112.76 184.29 L112.90 184.58 L113.05 184.87 L113.19 185.14 L113.34 185.41 L113.48 185.67 L113.62 185.93 L113.77 186.17 L113.91 186.41 L114.06 186.65 L114.20 186.87 L114.35 187.09 L114.49 187.30 L114.63 187.51 L114.78 187.71 L114.92 187.91 L115.07 188.10 L115.21 188.28 L115.36 188.46 L115.50 188.64 L115.64 188.81 L115.79 188.97 L115.93 189.13 L116.08 189.29 L116.22 189.44 L116.37 189.59 L116.51 189.74 L116.65 189.88 L116.80 190.01 L116.94 190.15 L117.09 190.28 L117.23 190.40 L117.38 190.53 L117.52 190.65 L117.66 190.76 L117.81 190.88 L117.95 190.99 L118.10 191.10 L118.24 191.20 L118.39 191.31 L118.53 191.41 L118.67 191.51 L118.82 191.60 L118.96 191.70 L119.11 191.79 L119.25 191.88 L119.40 191.96 L119.54 192.05 L119.68 192.13 L119.83 192.21 L119.97 192.29 L120.12 192.37 L120.26 192.44 L120.41 192.52 L120.55 192.59 L120.69 192.66 L120.84 192.73 L120.98 192.80 L121.13 192.86 L121.27 192.93 L121.42 192.99 L121.56 193.05 L121.70 193.11 L121.85 193.17 L121.99 193.23 L122.14 193.29 L122.28 193.34 L122.43 193.40 L122.57 193.45 L122.71 193.50 L122.86 193.55 L123.00 193.60 L123.15 193.65 L123.29 193.70 L123.44 193.75 L123.58 193.79 L123.72 193.84 L123.87 193.88 L124.01 193.92 L124.16 193.97 L124.30 194.01 L124.45 194.05 L124.59 194.09 L124.73 194.13 L124.88 194.17 L125.02 194.20 L125.17 194.24 L125.31 194.28 L125.46 194.31 L125.60 194.35 L125.75 194.38 L125.89 194.41 L126.03 194.45 L126.18 194.48 L126.32 194.51 L126.47 194.54 L126.61 194.57 L126.76 194.60 L126.90 194.63 L127.04 194.66 L127.19 194.69 L127.33 194.72 L127.48 194.75 L127.62 194.77 L127.77 194.80 L127.91 194.83 L128.05 194.85 L128.20 194.88 L128.34 194.90 L128.49 194.93 L128.63 194.95 L128.78 194.97 L128.92 195.00 L129.06 195.02 L129.21 195.04 L129.35 195.06 L129.50 195.09 L129.64 195.11 L129.79 195.13 L129.93 195.15 L130.07 195.17 L130.22 195.19 L130.36 195.21 L130.51 195.23 L130.65 195.25 L130.80 195.26 L130.94 195.28 L131.08 195.30 L131.23 195.32 L131.37 195.34 L131.52 195.35 L131.66 195.37 L131.81 195.39 L131.95 195.40 L132.09 195.42 L132.24 195.43 L132.38 195.45 L132.53 195.47 L132.67 195.48 L132.82 195.50 L132.96 195.51 L133.10 195.52 L133.25 195.54 L133.39 195.55 L133.54 195.57 L133.68 195.58 L133.83 195.59 L133.97 195.61 L134.11 195.62 L134.26 195.63 L134.40 195.64 L134.55 195.66 L134.69 195.67 L134.84 195.68 L134.98 195.69 L135.12 195.70 L135.27 195.72 L135.41 195.73 L135.56 195.74 L135.70 195.75 L135.85 195.76 L135.99 195.77 L136.13 195.78 L136.28 195.79 L136.42 195.80 L136.57 195.81 L136.71 195.82 L136.86 195.83 L137.00 195.84 L137.14 195.85 L137.29 195.86 L137.43 195.87 L137.58 195.88 L137.72 195.89 L137.87 195.90 L138.01 195.90 L138.15 195.91 L138.30 195.92 L138.44 195.93 L138.59 195.94 L138.73 195.95 L138.88 195.95 L139.02 195.96 L139.16 195.97 L139.31 195.98 L139.45 195.98 L139.60 195.99 L139.74 196.00 L139.89 196.01 L140.03 196.01 L140.17 196.02 L140.32 196.03 L140.46 196.03 L140.61 196.04 L140.75 196.05 L140.90 196.05 L141.04 196.06 L141.19 196.07 L141.33 196.07 L141.47 196.08 L141.62 196.09 L141.76 196.09 L141.91 196.10 L142.05 196.10 L142.20 196.11 L142.34 196.11 L142.48 196.12 L142.63 196.13 L142.77 196.13 L142.92 196.14 L143.06 196.14 L143.21 196.15 L143.35 196.15 L143.49 196.16 L143.64 196.16 L143.78 196.17 L143.93 196.17 L144.07 196.18 L144.22 196.18 L144.36 196.18 L144.50 196.19 L144.65 196.19 L144.79 196.20 L144.94 196.20 L145.08 196.21 L145.23 196.21 L145.37 196.21 L145.51 196.22 L145.66 196.22 L145.80 196.23 L145.95 196.23 L146.09 196.23 L146.24 196.24 L146.38 196.24 L146.52 196.25 L146.67 196.25 L146.81 196.25 L146.96 196.26 L147.10 196.26 L147.25 196.26 L147.39 196.27 L147.53 196.27 L147.68 196.27 L147.82 196.28 L147.97 196.28 L148.11 196.28 L148.26 196.28 L148.40 196.29 L148.54 196.29 L148.69 196.29 L148.83 196.30 L148.98 196.30 L149.12 196.30 L149.27 196.30 L149.41 196.31 L149.55 196.31 L149.70 196.31 L149.84 196.31 L149.99 196.32 L150.13 196.32 L150.28 196.32 L150.42 196.32 L150.56 196.33 L150.71 196.33 L150.85 196.33 L151.00 196.33 L151.14 196.33 L151.29 196.34 L151.43 196.34 L151.57 196.34 L151.72 196.34 L151.86 196.34 L152.01 196.35 L152.15 196.35 L152.30 196.35 L152.44 196.35 L152.58 196.35 L152.73 196.35 L152.87 196.36 L153.02 196.36 L153.16 196.36 L153.31 196.36 L153.45 196.36 L153.59 196.36 L153.74 196.36 L153.88 196.37 L154.03 196.37 L154.17 196.37 L154.32 196.37 L154.46 196.37 L154.60 196.37 L154.75 196.37 L154.89 196.37 L155.04 196.37 L155.18 196.38 L155.33 196.38 L155.47 196.38 L155.62 196.38 L155.76 196.38 L155.90 196.38 L156.05 196.38 L156.19 196.38 L156.34 196.38 L156.48 196.38 L156.63 196.38 L156.77 196.38 L156.91 196.38 L157.06 196.39 L157.20 196.39 L157.35 196.39 L157.49 196.39 L157.64 196.39 L157.78 196.39 L157.92 196.39 L158.07 196.39 L158.21 196.39 L158.36 196.39 L158.50 196.39 L158.65 196.39 L158.79 196.39 L158.93 196.39 L159.08 196.39 L159.22 196.39 L159.37 196.39 L159.51 196.39 L159.66 196.39 L159.80 196.39 L159.94 196.39 L160.09 196.39 L160.23 196.39 L160.38 196.39 L160.52 196.39 L160.67 196.39 L160.81 196.39 L160.95 196.39 L161.10 196.39 L161.24 196.39 L161.39 196.39 L161.53 196.39 L161.68 196.39 L161.82 196.39 L161.96 196.39 L162.11 196.39 L162.25 196.39 L162.40 196.39 L162.54 196.39 L162.69 196.38 L162.83 196.38 L162.97 196.38 L163.12 196.38 L163.26 196.38 L163.41 196.38 L163.55 196.38 L163.70 196.38 L163.84 196.38 L163.98 196.38 L164.13 196.38 L164.27 196.38 L164.42 196.38 L164.56 196.37 L164.71 196.37 L164.85 196.37 L164.99 196.37 L165.14 196.37 L165.28 196.37 L165.43 196.37 L165.57 196.37 L165.72 196.37 L165.86 196.37 L166.00 196.36 L166.15 196.36 L166.29 196.36 L166.44 196.36 L166.58 196.36 L166.73 196.36 L166.87 196.36 L167.01 196.36 L167.16 196.35 L167.30 196.35 L167.45 196.35 L167.59 196.35 L167.74 196.35 L167.88 196.35 L168.02 196.34 L168.17 196.34 L168.31 196.34 L168.46 196.34 L168.60 196.34 L168.75 196.34 L168.89 196.34 L169.03 196.33 L169.18 196.33 L169.32 196.33 L169.47 196.33 L169.61 196.33 L169.76 196.32 L169.90 196.32 L170.05 196.32 L170.19 196.32 L170.33 196.32 L170.48 196.31 L170.62 196.31 L170.77 196.31 L170.91 196.31 L171.06 196.31 L171.20 196.30 L171.34 196.30 L171.49 196.30 L171.63 196.30 L171.78 196.30 L171.92 196.29 L172.07 196.29 L172.21 196.29 L172.35 196.29 L172.50 196.28 L172.64 196.28 L172.79 196.28 L172.93 196.28 L173.08 196.27 L173.22 196.27 L173.36 196.27 L173.51 196.27 L173.65 196.26 L173.80 196.26 L173.94 196.26 L174.09 196.26 L174.23 196.25 L174.37 196.25 L174.52 196.25 L174.66 196.24 L174.81 196.24 L174.95 196.24 L175.10 196.24 L175.24 196.23 L175.38 196.23 L175.53 196.23 L175.67 196.22 L175.82 196.22 L175.96 196.22 L176.11 196.21 L176.25 196.21 L176.39 196.21 L176.54 196.20 L176.68 196.20 L176.83 196.20 L176.97 196.19 L177.12 196.19 L177.26 196.19 L177.40 196.18 L177.55 196.18 L177.69 196.18 L177.84 196.17 L177.98 196.17 L178.13 196.17 L178.27 196.16 L178.41 196.16 L178.56 196.16 L178.70 196.15 L178.85 196.15 L178.99 196.14 L179.14 196.14 L179.28 196.14 L179.42 196.13 L179.57 196.13 L179.71 196.12 L179.86 196.12 L180.00 196.12 L180.15 196.11 L180.29 196.11 L180.43 196.10 L180.58 196.10 L180.72 196.10 L180.87 196.09 L181.01 196.09 L181.16 196.08 L181.30 196.08 L181.44 196.07 L181.59 196.07 L181.73 196.06 L181.88 196.06 L182.02 196.06 L182.17 196.05 L182.31 196.05 L182.45 196.04 L182.60 196.04 L182.74 196.03 L182.89 196.03 L183.03 196.02 L183.18 196.02 L183.32 196.01 L183.46 196.01 L183.61 196.00 L183.75 196.00 L183.90 195.99 L184.04 195.99 L184.19 195.98 L184.33 195.98 L184.48 195.97 L184.62 195.97 L184.76 195.96 L184.91 195.96 L185.05 195.95 L185.20 195.94 L185.34 195.94 L185.49 195.93 L185.63 195.93 L185.77 195.92 L185.92 195.92 L186.06 195.91 L186.21 195.90 L186.35 195.90 L186.50 195.89 L186.64 195.89 L186.78 195.88 L186.93 195.87 L187.07 195.87 L187.22 195.86 L187.36 195.86 L187.51 195.85 L187.65 195.84 L187.79 195.84 L187.94 195.83 L188.08 195.82 L188.23 195.82 L188.37 195.81 L188.52 195.80 L188.66 195.80 L188.80 195.79 L188.95 195.78 L189.09 195.78 L189.24 195.77 L189.38 195.76 L189.53 195.75 L189.67 195.75 L189.81 195.74 L189.96 195.73 L190.10 195.73 L190.25 195.72 L190.39 195.71 L190.54 195.70 L190.68 195.70 L190.82 195.69 L190.97 195.68 L191.11 195.67 L191.26 195.66 L191.40 195.66 L191.55 195.65 L191.69 195.64 L191.83 195.63 L191.98 195.62 L192.12 195.62 L192.27 195.61 L192.41 195.60 L192.56 195.59 L192.70 195.58 L192.84 195.57 L192.99 195.56 L193.13 195.56 L193.28 195.55 L193.42 195.54 L193.57 195.53 L193.71 195.52 L193.85 195.51 L194.00 195.50 L194.14 195.49 L194.29 195.48 L194.43 195.47 L194.58 195.46 L194.72 195.45 L194.86 195.44 L195.01 195.43 L195.15 195.42 L195.30 195.41 L195.44 195.40 L195.59 195.39 L195.73 195.38 L195.87 195.37 L196.02 195.36 L196.16 195.35 L196.31 195.34 L196.45 195.33 L196.60 195.32 L196.74 195.31 L196.88 195.30 L197.03 195.29 L197.17 195.28 L197.32 195.27 L197.46 195.25 L197.61 195.24 L197.75 195.23 L197.89 195.22 L198.04 195.21 L198.18 195.20 L198.33 195.18 L198.47 195.17 L198.62 195.16 L198.76 195.15 L198.91 195.13 L199.05 195.12 L199.19 195.11 L199.34 195.10 L199.48 195.08 L199.63 195.07 L199.77 195.06 L199.92 195.04 L200.06 195.03 L200.20 195.02 L200.35 195.00 L200.49 194.99 L200.64 194.97 L200.78 194.96 L200.93 194.95 L201.07 194.93 L201.21 194.92 L201.36 194.90 L201.50 194.89 L201.65 194.87 L201.79 194.86 L201.94 194.84 L202.08 194.83 L202.22 194.81 L202.37 194.80 L202.51 194.78 L202.66 194.77 L202.80 194.75 L202.95 194.73 L203.09 194.72 L203.23 194.70 L203.38 194.68 L203.52 194.67 L203.67 194.65 L203.81 194.63 L203.96 194.62 L204.10 194.60 L204.24 194.58 L204.39 194.56 L204.53 194.54 L204.68 194.53 L204.82 194.51 L204.97 194.49 L205.11 194.47 L205.25 194.45 L205.40 194.43 L205.54 194.41 L205.69 194.39 L205.83 194.37 L205.98 194.35 L206.12 194.33 L206.26 194.31 L206.41 194.29 L206.55 194.27 L206.70 194.25 L206.84 194.23 L206.99 194.21 L207.13 194.19 L207.27 194.16 L207.42 194.14 L207.56 194.12 L207.71 194.10 L207.85 194.07 L208.00 194.05 L208.14 194.03 L208.28 194.00 L208.43 193.98 L208.57 193.96 L208.72 193.93 L208.86 193.91 L209.01 193.88 L209.15 193.86 L209.29 193.83 L209.44 193.81 L209.58 193.78 L209.73 193.75 L209.87 193.73 L210.02 193.70 L210.16 193.67 L210.30 193.64 L210.45 193.62 L210.59 193.59 L210.74 193.56 L210.88 193.53 L211.03 193.50 L211.17 193.47 L211.31 193.44 L211.46 193.41 L211.60 193.38 L211.75 193.35 L211.89 193.32 L212.04 193.29 L212.18 193.26 L212.32 193.23 L212.47 193.19 L212.61 193.16 L212.76 193.13 L212.90 193.09 L213.05 193.06 L213.19 193.02 L213.34 192.99 L213.48 192.95 L213.62 192.92 L213.77 192.88 L213.91 192.84 L214.06 192.81 L214.20 192.77 L214.35 192.73 L214.49 192.69 L214.63 192.65 L214.78 192.61 L214.92 192.57 L215.07 192.53 L215.21 192.49 L215.36 192.45 L215.50 192.41 L215.64 192.36 L215.79 192.32 L215.93 192.28 L216.08 192.23 L216.22 192.19 L216.37 192.14 L216.51 192.10 L216.65 192.05 L216.80 192.00 L216.94 191.95 L217.09 191.90 L217.23 191.85 L217.38 191.80 L217.52 191.75 L217.66 191.70 L217.81 191.65 L217.95 191.60 L218.10 191.54 L218.24 191.49 L218.39 191.43 L218.53 191.38 L218.67 191.32 L218.82 191.26 L218.96 191.21 L219.11 191.15 L219.25 191.09 L219.40 191.03 L219.54 190.96 L219.68 190.90 L219.83 190.84 L219.97 190.77 L220.12 190.71 L220.26 190.64 L220.41 190.58 L220.55 190.51 L220.69 190.44 L220.84 190.37 L220.98 190.30 L221.13 190.22 L221.27 190.15 L221.42 190.08 L221.56 190.00 L221.70 189.92 L221.85 189.85 L221.99 189.77 L222.14 189.69 L222.28 189.60 L222.43 189.52 L222.57 189.44 L222.71 189.35 L222.86 189.26 L223.00 189.18 L223.15 189.09 L223.29 188.99 L223.44 188.90 L223.58 188.81 L223.72 188.71 L223.87 188.61 L224.01 188.52 L224.16 188.41 L224.30 188.31 L224.45 188.21 L224.59 188.10 L224.73 187.99 L224.88 187.88 L225.02 187.77 L225.17 187.66 L225.31 187.54 L225.46 187.43 L225.60 187.31 L225.74 187.19 L225.89 187.06 L226.03 186.94 L226.18 186.81 L226.32 186.68 L226.47 186.54 L226.61 186.41 L226.75 186.27 L226.90 186.13 L227.04 185.99 L227.19 185.84 L227.33 185.69 L227.48 185.54 L227.62 185.39 L227.77 185.23 L227.91 185.07 L228.05 184.91 L228.20 184.74 L228.34 184.57 L228.49 184.40 L228.63 184.23 L228.78 184.05 L228.92 183.86 L229.06 183.68 L229.21 183.49 L229.35 183.29 L229.50 183.09 L229.64 182.89 L229.79 182.68 L229.93 182.47 L230.07 182.26 L230.22 182.04 L230.36 181.81 L230.51 181.58 L230.65 181.35 L230.80 181.11 L230.94 180.86 L231.08 180.62 L231.23 180.36 L231.37 180.10 L231.52 179.83 L231.66 179.56 L231.81 179.28 L231.95 179.00 L232.09 178.70 L232.24 178.41 L232.38 178.10 L232.53 177.79 L232.67 177.47 L232.82 177.14 L232.96 176.81 L233.10 176.46 L233.25 176.11 L233.39 175.75 L233.54 175.39 L233.68 175.01 L233.83 174.62 L233.97 174.23 L234.11 173.82 L234.26 173.41 L234.40 172.98 L234.55 172.54 L234.69 172.10 L234.84 171.64 L234.98 171.17 L235.12 170.68 L235.27 170.19 L235.41 169.68 L235.56 169.16 L235.70 168.62 L235.85 168.07 L235.99 167.50 L236.13 166.92 L236.28 166.33 L236.42 165.72 L236.57 165.09 L236.71 164.44 L236.86 163.77 L237.00 163.09 L237.14 162.39 L237.29 161.67 L237.43 160.92 L237.58 160.16 L237.72 159.38 L237.87 158.57 L238.01 157.74 L238.15 156.88 L238.30 156.00 L238.44 155.09 L238.59 154.16 L238.73 153.20 L238.88 152.21 L239.02 151.20 L239.16 150.15 L239.31 149.07 L239.45 147.96 L239.60 146.81 L239.74 145.63 L239.89 144.42 L240.03 143.17 L240.17 141.88 L240.32 140.56 L240.46 139.19 L240.61 137.78 L240.75 136.33 L240.90 134.84 L241.04 133.31 L241.18 131.73 L241.33 130.10 L241.47 128.43 L241.62 126.70 L241.76 124.93 L241.91 123.11 L242.05 121.24 L242.20 119.32 L242.34 117.34 L242.48 115.32 L242.63 113.24 L242.77 111.10 L242.92 108.92 L243.06 106.68 L243.21 104.39 L243.35 102.06 L243.49 99.67 L243.64 97.23 L243.78 94.75 L243.93 92.22 L244.07 89.65 L244.22 87.05 L244.36 84.40 L244.50 81.73 L244.65 79.04 L244.79 76.33 L244.94 73.60 L245.08 70.86 L245.23 68.13 L245.37 65.40 L245.51 62.70 L245.66 60.02 L245.80 57.37 L245.95 54.78 L246.09 52.24 L246.24 49.77 L246.38 47.39 L246.52 45.10 L246.67 42.91 L246.81 40.85 L246.96 38.91 L247.10 37.12 L247.25 35.48 L247.39 34.01 L247.53 32.71 L247.68 31.59 L247.82 30.67 L247.97 29.94 L248.11 29.42 L248.26 29.11 L248.40 29.00 L248.54 29.11 L248.69 29.42 L248.83 29.95 L248.98 30.67 L249.12 31.60 L249.27 32.71 L249.41 34.01 L249.55 35.48 L249.70 37.12 L249.84 38.91 L249.99 40.85 L250.13 42.92 L250.28 45.10 L250.42 47.39 L250.56 49.78 L250.71 52.24 L250.85 54.78 L251.00 57.38 L251.14 60.02 L251.29 62.70 L251.43 65.41 L251.57 68.13 L251.72 70.87 L251.86 73.60 L252.01 76.33 L252.15 79.05 L252.30 81.74 L252.44 84.41 L252.58 87.05 L252.73 89.66 L252.87 92.23 L253.02 94.76 L253.16 97.24 L253.31 99.68 L253.45 102.06 L253.59 104.40 L253.74 106.69 L253.88 108.93 L254.03 111.12 L254.17 113.25 L254.32 115.33 L254.46 117.35 L254.60 119.33 L254.75 121.25 L254.89 123.12 L255.04 124.95 L255.18 126.72 L255.33 128.44 L255.47 130.11 L255.61 131.74 L255.76 133.32 L255.90 134.86 L256.05 136.35 L256.19 137.80 L256.34 139.20 L256.48 140.57 L256.63 141.90 L256.77 143.19 L256.91 144.44 L257.06 145.65 L257.20 146.83 L257.35 147.97 L257.49 149.09 L257.64 150.16 L257.78 151.21 L257.92 152.23 L258.07 153.22 L258.21 154.18 L258.36 155.11 L258.50 156.02 L258.65 156.90 L258.79 157.76 L258.93 158.59 L259.08 159.40 L259.22 160.18 L259.37 160.95 L259.51 161.69 L259.66 162.41 L259.80 163.11 L259.94 163.80 L260.09 164.46 L260.23 165.11 L260.38 165.74 L260.52 166.35 L260.67 166.95 L260.81 167.53 L260.95 168.09 L261.10 168.64 L261.24 169.18 L261.39 169.70 L261.53 170.21 L261.68 170.71 L261.82 171.19 L261.96 171.66 L262.11 172.12 L262.25 172.57 L262.40 173.01 L262.54 173.43 L262.69 173.85 L262.83 174.26 L262.97 174.65 L263.12 175.04 L263.26 175.42 L263.41 175.78 L263.55 176.14 L263.70 176.49 L263.84 176.84 L263.98 177.17 L264.13 177.50 L264.27 177.82 L264.42 178.13 L264.56 178.44 L264.71 178.74 L264.85 179.03 L264.99 179.31 L265.14 179.59 L265.28 179.86 L265.43 180.13 L265.57 180.39 L265.72 180.65 L265.86 180.90 L266.00 181.14 L266.15 181.38 L266.29 181.62 L266.44 181.85 L266.58 182.07 L266.73 182.29 L266.87 182.51 L267.01 182.72 L267.16 182.93 L267.30 183.13 L267.45 183.33 L267.59 183.52 L267.74 183.71 L267.88 183.90 L268.02 184.08 L268.17 184.26 L268.31 184.44 L268.46 184.61 L268.60 184.78 L268.75 184.95 L268.89 185.11 L269.03 185.27 L269.18 185.43 L269.32 185.58 L269.47 185.74 L269.61 185.88 L269.76 186.03 L269.90 186.17 L270.05 186.31 L270.19 186.45 L270.33 186.59 L270.48 186.72 L270.62 186.85 L270.77 186.98 L270.91 187.11 L271.06 187.23 L271.20 187.35 L271.34 187.47 L271.49 187.59 L271.63 187.71 L271.78 187.82 L271.92 187.93 L272.07 188.04 L272.21 188.15 L272.35 188.25 L272.50 188.36 L272.64 188.46 L272.79 188.56 L272.93 188.66 L273.08 188.76 L273.22 188.86 L273.36 188.95 L273.51 189.04 L273.65 189.14 L273.80 189.23 L273.94 189.32 L274.09 189.40 L274.23 189.49 L274.37 189.57 L274.52 189.66 L274.66 189.74 L274.81 189.82 L274.95 189.90 L275.10 189.98 L275.24 190.05 L275.38 190.13 L275.53 190.21 L275.67 190.28 L275.82 190.35 L275.96 190.42 L276.11 190.49 L276.25 190.56 L276.39 190.63 L276.54 190.70 L276.68 190.77 L276.83 190.83 L276.97 190.90 L277.12 190.96 L277.26 191.02 L277.40 191.09 L277.55 191.15 L277.69 191.21 L277.84 191.27 L277.98 191.32 L278.13 191.38 L278.27 191.44 L278.41 191.50 L278.56 191.55 L278.70 191.61 L278.85 191.66 L278.99 191.71 L279.14 191.76 L279.28 191.82 L279.42 191.87 L279.57 191.92 L279.71 191.97 L279.86 192.02 L280.00 192.07 L280.15 192.11 L280.29 192.16 L280.43 192.21 L280.58 192.25 L280.72 192.30 L280.87 192.34 L281.01 192.39 L281.16 192.43 L281.30 192.47 L281.44 192.52 L281.59 192.56 L281.73 192.60 L281.88 192.64 L282.02 192.68 L282.17 192.72 L282.31 192.76 L282.45 192.80 L282.60 192.84 L282.74 192.88 L282.89 192.92 L283.03 192.95 L283.18 192.99 L283.32 193.03 L283.46 193.06 L283.61 193.10 L283.75 193.13 L283.90 193.17 L284.04 193.20 L284.19 193.23 L284.33 193.27 L284.48 193.30 L284.62 193.33 L284.76 193.37 L284.91 193.40 L285.05 193.43 L285.20 193.46 L285.34 193.49 L285.49 193.52 L285.63 193.55 L285.77 193.58 L285.92 193.61 L286.06 193.64 L286.21 193.67 L286.35 193.70 L286.50 193.73 L286.64 193.75 L286.78 193.78 L286.93 193.81 L287.07 193.84 L287.22 193.86 L287.36 193.89 L287.51 193.92 L287.65 193.94 L287.79 193.97 L287.94 193.99 L288.08 194.02 L288.23 194.04 L288.37 194.07 L288.52 194.09 L288.66 194.12 L288.80 194.14 L288.95 194.16 L289.09 194.19 L289.24 194.21 L289.38 194.23 L289.53 194.25 L289.67 194.28 L289.81 194.30 L289.96 194.32 L290.10 194.34 L290.25 194.36 L290.39 194.39 L290.54 194.41 L290.68 194.43 L290.82 194.45 L290.97 194.47 L291.11 194.49 L291.26 194.51 L291.40 194.53 L291.55 194.55 L291.69 194.57 L291.83 194.59 L291.98 194.61 L292.12 194.62 L292.27 194.64 L292.41 194.66 L292.56 194.68 L292.70 194.70 L292.84 194.72 L292.99 194.73 L293.13 194.75 L293.28 194.77 L293.42 194.79 L293.57 194.80 L293.71 194.82 L293.85 194.84 L294.00 194.85 L294.14 194.87 L294.29 194.89 L294.43 194.90 L294.58 194.92 L294.72 194.94 L294.86 194.95 L295.01 194.97 L295.15 194.98 L295.30 195.00 L295.44 195.01 L295.59 195.03 L295.73 195.04 L295.87 195.06 L296.02 195.07 L296.16 195.09 L296.31 195.10 L296.45 195.12 L296.60 195.13 L296.74 195.14 L296.88 195.16 L297.03 195.17 L297.17 195.19 L297.32 195.20 L297.46 195.21 L297.61 195.23 L297.75 195.24 L297.89 195.25 L298.04 195.27 L298.18 195.28 L298.33 195.29 L298.47 195.30 L298.62 195.32 L298.76 195.33 L298.90 195.34 L299.05 195.35 L299.19 195.37 L299.34 195.38 L299.48 195.39 L299.63 195.40 L299.77 195.41 L299.92 195.42 L300.06 195.44 L300.20 195.45 L300.35 195.46 L300.49 195.47 L300.64 195.48 L300.78 195.49 L300.93 195.50 L301.07 195.51 L301.21 195.53 L301.36 195.54 L301.50 195.55 L301.65 195.56 L301.79 195.57 L301.94 195.58 L302.08 195.59 L302.22 195.60 L302.37 195.61 L302.51 195.62 L302.66 195.63 L302.80 195.64 L302.95 195.65 L303.09 195.66 L303.23 195.67 L303.38 195.68 L303.52 195.69 L303.67 195.70 L303.81 195.71 L303.96 195.72 L304.10 195.72 L304.24 195.73 L304.39 195.74 L304.53 195.75 L304.68 195.76 L304.82 195.77 L304.97 195.78 L305.11 195.79 L305.25 195.80 L305.40 195.81 L305.54 195.81 L305.69 195.82 L305.83 195.83 L305.98 195.84 L306.12 195.85 L306.26 195.86 L306.41 195.86 L306.55 195.87 L306.70 195.88 L306.84 195.89 L306.99 195.90 L307.13 195.90 L307.27 195.91 L307.42 195.92 L307.56 195.93 L307.71 195.94 L307.85 195.94 L308.00 195.95 L308.14 195.96 L308.28 195.97 L308.43 195.97 L308.57 195.98 L308.72 195.99 L308.86 195.99 L309.01 196.00 L309.15 196.01 L309.29 196.02 L309.44 196.02 L309.58 196.03 L309.73 196.04 L309.87 196.04 L310.02 196.05 L310.16 196.06 L310.30 196.06 L310.45 196.07 L310.59 196.08 L310.74 196.08 L310.88 196.09 L311.03 196.10 L311.17 196.10 L311.31 196.11 L311.46 196.12 L311.60 196.12 L311.75 196.13 L311.89 196.14 L312.04 196.14 L312.18 196.15 L312.32 196.16 L312.47 196.16 L312.61 196.17 L312.76 196.17 L312.90 196.18 L313.05 196.19 L313.19 196.19 L313.33 196.20 L313.48 196.20 L313.62 196.21 L313.77 196.21 L313.91 196.22 L314.06 196.23 L314.20 196.23 L314.35 196.24 L314.49 196.24 L314.63 196.25 L314.78 196.25 L314.92 196.26 L315.07 196.26 L315.21 196.27 L315.36 196.28 L315.50 196.28 L315.64 196.29 L315.79 196.29 L315.93 196.30 L316.08 196.30 L316.22 196.31 L316.37 196.31 L316.51 196.32 L316.65 196.32 L316.80 196.33 L316.94 196.33 L317.09 196.34 L317.23 196.34 L317.38 196.35 L317.52 196.35 L317.66 196.36 L317.81 196.36 L317.95 196.37 L318.10 196.37 L318.24 196.38 L318.39 196.38 L318.53 196.39 L318.67 196.39 L318.82 196.40 L318.96 196.40 L319.11 196.40 L319.25 196.41 L319.40 196.41 L319.54 196.42 L319.68 196.42 L319.83 196.43 L319.97 196.43 L320.12 196.44 L320.26 196.44 L320.41 196.44 L320.55 196.45" fill="none" stroke="#b40a0a" stroke-width="1.35" stroke-linejoin="round"/>
<path d="M31.95 197.09 L32.09 197.09 L32.24 197.08 L32.38 197.08 L32.53 197.08 L32.67 197.08 L32.82 197.07 L32.96 197.07 L33.10 197.07 L33.25 197.06 L33.39 197.06 L33.54 197.06 L33.68 197.06 L33.83 197.05 L33.97 197.05 L34.11 197.05 L34.26 197.04 L34.40 197.04 L34.55 197.04 L34.69 197.03 L34.84 197.03 L34.98 197.03 L35.12 197.02 L35.27 197.02 L35.41 197.02 L35.56 197.01 L35.70 197.01 L35.85 197.01 L35.99 197.00 L36.13 197.00 L36.28 197.00 L36.42 196.99 L36.57 196.99 L36.71 196.99 L36.86 196.98 L37.00 196.98 L37.14 196.97 L37.29 196.97 L37.43 196.97 L37.58 196.96 L37.72 196.96 L37.87 196.95 L38.01 196.95 L38.15 196.95 L38.30 196.94 L38.44 196.94 L38.59 196.93 L38.73 196.93 L38.88 196.92 L39.02 196.92 L39.16 196.92 L39.31 196.91 L39.45 196.91 L39.60 196.90 L39.74 196.90 L39.89 196.89 L40.03 196.89 L40.18 196.88 L40.32 196.88 L40.46 196.87 L40.61 196.87 L40.75 196.86 L40.90 196.86 L41.04 196.85 L41.19 196.85 L41.33 196.84 L41.47 196.83 L41.62 196.83 L41.76 196.82 L41.91 196.82 L42.05 196.81 L42.20 196.81 L42.34 196.80 L42.48 196.79 L42.63 196.79 L42.77 196.78 L42.92 196.77 L43.06 196.77 L43.21 196.76 L43.35 196.75 L43.49 196.75 L43.64 196.74 L43.78 196.73 L43.93 196.73 L44.07 196.72 L44.22 196.71 L44.36 196.71 L44.50 196.70 L44.65 196.69 L44.79 196.68 L44.94 196.68 L45.08 196.67 L45.23 196.66 L45.37 196.65 L45.51 196.64 L45.66 196.63 L45.80 196.63 L45.95 196.62 L46.09 196.61 L46.24 196.60 L46.38 196.59 L46.52 196.58 L46.67 196.57 L46.81 196.56 L46.96 196.55 L47.10 196.54 L47.25 196.53 L47.39 196.52 L47.53 196.51 L47.68 196.50 L47.82 196.49 L47.97 196.48 L48.11 196.47 L48.26 196.46 L48.40 196.45 L48.54 196.44 L48.69 196.42 L48.83 196.41 L48.98 196.40 L49.12 196.39 L49.27 196.38 L49.41 196.36 L49.55 196.35 L49.70 196.34 L49.84 196.32 L49.99 196.31 L50.13 196.30 L50.28 196.28 L50.42 196.27 L50.56 196.25 L50.71 196.24 L50.85 196.22 L51.00 196.21 L51.14 196.19 L51.29 196.18 L51.43 196.16 L51.57 196.14 L51.72 196.13 L51.86 196.11 L52.01 196.09 L52.15 196.07 L52.30 196.05 L52.44 196.04 L52.58 196.02 L52.73 196.00 L52.87 195.98 L53.02 195.96 L53.16 195.94 L53.31 195.91 L53.45 195.89 L53.59 195.87 L53.74 195.85 L53.88 195.83 L54.03 195.80 L54.17 195.78 L54.32 195.75 L54.46 195.73 L54.61 195.70 L54.75 195.68 L54.89 195.65 L55.04 195.63 L55.18 195.60 L55.33 195.57 L55.47 195.54 L55.62 195.51 L55.76 195.48 L55.90 195.45 L56.05 195.42 L56.19 195.39 L56.34 195.35 L56.48 195.32 L56.63 195.28 L56.77 195.25 L56.91 195.21 L57.06 195.18 L57.20 195.14 L57.35 195.10 L57.49 195.06 L57.64 195.02 L57.78 194.98 L57.92 194.93 L58.07 194.89 L58.21 194.84 L58.36 194.80 L58.50 194.75 L58.65 194.70 L58.79 194.65 L58.93 194.60 L59.08 194.55 L59.22 194.50 L59.37 194.44 L59.51 194.38 L59.66 194.33 L59.80 194.27 L59.94 194.20 L60.09 194.14 L60.23 194.08 L60.38 194.01 L60.52 193.94 L60.67 193.87 L60.81 193.80 L60.95 193.73 L61.10 193.65 L61.24 193.57 L61.39 193.49 L61.53 193.41 L61.68 193.32 L61.82 193.23 L61.96 193.14 L62.11 193.05 L62.25 192.96 L62.40 192.86 L62.54 192.76 L62.69 192.65 L62.83 192.54 L62.97 192.43 L63.12 192.32 L63.26 192.20 L63.41 192.08 L63.55 191.96 L63.70 191.83 L63.84 191.70 L63.98 191.56 L64.13 191.42 L64.27 191.28 L64.42 191.13 L64.56 190.98 L64.71 190.82 L64.85 190.66 L64.99 190.49 L65.14 190.32 L65.28 190.14 L65.43 189.96 L65.57 189.78 L65.72 189.58 L65.86 189.39 L66.00 189.18 L66.15 188.98 L66.29 188.76 L66.44 188.54 L66.58 188.32 L66.73 188.09 L66.87 187.85 L67.01 187.61 L67.16 187.36 L67.30 187.11 L67.45 186.86 L67.59 186.60 L67.74 186.33 L67.88 186.06 L68.03 185.79 L68.17 185.51 L68.31 185.23 L68.46 184.94 L68.60 184.66 L68.75 184.37 L68.89 184.08 L69.04 183.80 L69.18 183.51 L69.32 183.23 L69.47 182.95 L69.61 182.67 L69.76 182.40 L69.90 182.13 L70.05 181.87 L70.19 181.62 L70.33 181.38 L70.48 181.15 L70.62 180.94 L70.77 180.74 L70.91 180.55 L71.06 180.38 L71.20 180.23 L71.34 180.09 L71.49 179.98 L71.63 179.88 L71.78 179.81 L71.92 179.76 L72.07 179.73 L72.21 179.72 L72.35 179.73 L72.50 179.77 L72.64 179.82 L72.79 179.90 L72.93 180.00 L73.08 180.12 L73.22 180.26 L73.36 180.41 L73.51 180.59 L73.65 180.78 L73.80 180.98 L73.94 181.20 L74.09 181.43 L74.23 181.67 L74.37 181.92 L74.52 182.18 L74.66 182.45 L74.81 182.72 L74.95 183.00 L75.10 183.28 L75.24 183.56 L75.38 183.85 L75.53 184.14 L75.67 184.42 L75.82 184.71 L75.96 185.00 L76.11 185.28 L76.25 185.56 L76.39 185.83 L76.54 186.11 L76.68 186.38 L76.83 186.64 L76.97 186.90 L77.12 187.16 L77.26 187.41 L77.40 187.65 L77.55 187.89 L77.69 188.12 L77.84 188.35 L77.98 188.57 L78.13 188.79 L78.27 189.00 L78.41 189.21 L78.56 189.41 L78.70 189.61 L78.85 189.80 L78.99 189.98 L79.14 190.16 L79.28 190.34 L79.42 190.51 L79.57 190.67 L79.71 190.83 L79.86 190.99 L80.00 191.14 L80.15 191.29 L80.29 191.43 L80.43 191.57 L80.58 191.70 L80.72 191.83 L80.87 191.96 L81.01 192.08 L81.16 192.20 L81.30 192.32 L81.44 192.43 L81.59 192.54 L81.73 192.65 L81.88 192.75 L82.02 192.85 L82.17 192.95 L82.31 193.04 L82.45 193.14 L82.60 193.22 L82.74 193.31 L82.89 193.40 L83.03 193.48 L83.18 193.56 L83.32 193.63 L83.47 193.71 L83.61 193.78 L83.75 193.85 L83.90 193.92 L84.04 193.99 L84.19 194.06 L84.33 194.12 L84.48 194.18 L84.62 194.24 L84.76 194.30 L84.91 194.36 L85.05 194.42 L85.20 194.47 L85.34 194.52 L85.49 194.57 L85.63 194.63 L85.77 194.67 L85.92 194.72 L86.06 194.77 L86.21 194.81 L86.35 194.86 L86.50 194.90 L86.64 194.94 L86.78 194.99 L86.93 195.03 L87.07 195.06 L87.22 195.10 L87.36 195.14 L87.51 195.18 L87.65 195.21 L87.79 195.25 L87.94 195.28 L88.08 195.31 L88.23 195.35 L88.37 195.38 L88.52 195.41 L88.66 195.44 L88.80 195.47 L88.95 195.50 L89.09 195.53 L89.24 195.55 L89.38 195.58 L89.53 195.61 L89.67 195.63 L89.81 195.66 L89.96 195.68 L90.10 195.71 L90.25 195.73 L90.39 195.76 L90.54 195.78 L90.68 195.80 L90.82 195.82 L90.97 195.84 L91.11 195.86 L91.26 195.89 L91.40 195.91 L91.55 195.93 L91.69 195.94 L91.83 195.96 L91.98 195.98 L92.12 196.00 L92.27 196.02 L92.41 196.04 L92.56 196.05 L92.70 196.07 L92.84 196.09 L92.99 196.10 L93.13 196.12 L93.28 196.13 L93.42 196.15 L93.57 196.16 L93.71 196.18 L93.85 196.19 L94.00 196.21 L94.14 196.22 L94.29 196.23 L94.43 196.25 L94.58 196.26 L94.72 196.27 L94.86 196.29 L95.01 196.30 L95.15 196.31 L95.30 196.32 L95.44 196.34 L95.59 196.35 L95.73 196.36 L95.87 196.37 L96.02 196.38 L96.16 196.39 L96.31 196.40 L96.45 196.41 L96.60 196.42 L96.74 196.43 L96.89 196.44 L97.03 196.45 L97.17 196.46 L97.32 196.47 L97.46 196.48 L97.61 196.49 L97.75 196.50 L97.90 196.51 L98.04 196.52 L98.18 196.53 L98.33 196.53 L98.47 196.54 L98.62 196.55 L98.76 196.56 L98.91 196.57 L99.05 196.57 L99.19 196.58 L99.34 196.59 L99.48 196.60 L99.63 196.60 L99.77 196.61 L99.92 196.62 L100.06 196.62 L100.20 196.63 L100.35 196.64 L100.49 196.65 L100.64 196.65 L100.78 196.66 L100.93 196.66 L101.07 196.67 L101.21 196.68 L101.36 196.68 L101.50 196.69 L101.65 196.69 L101.79 196.70 L101.94 196.71 L102.08 196.71 L102.22 196.72 L102.37 196.72 L102.51 196.73 L102.66 196.73 L102.80 196.74 L102.95 196.74 L103.09 196.75 L103.23 196.75 L103.38 196.76 L103.52 196.76 L103.67 196.77 L103.81 196.77 L103.96 196.78 L104.10 196.78 L104.24 196.79 L104.39 196.79 L104.53 196.80 L104.68 196.80 L104.82 196.80 L104.97 196.81 L105.11 196.81 L105.25 196.82 L105.40 196.82 L105.54 196.83 L105.69 196.83 L105.83 196.83 L105.98 196.84 L106.12 196.84 L106.26 196.84 L106.41 196.85 L106.55 196.85 L106.70 196.86 L106.84 196.86 L106.99 196.86 L107.13 196.87 L107.27 196.87 L107.42 196.87 L107.56 196.88 L107.71 196.88 L107.85 196.88 L108.00 196.89 L108.14 196.89 L108.28 196.89 L108.43 196.90 L108.57 196.90 L108.72 196.90 L108.86 196.90 L109.01 196.91 L109.15 196.91 L109.29 196.91 L109.44 196.92 L109.58 196.92 L109.73 196.92 L109.87 196.92 L110.02 196.93 L110.16 196.93 L110.30 196.93 L110.45 196.93 L110.59 196.94 L110.74 196.94 L110.88 196.94 L111.03 196.94 L111.17 196.95 L111.31 196.95 L111.46 196.95 L111.60 196.95 L111.75 196.96 L111.89 196.96 L112.04 196.96 L112.18 196.96 L112.33 196.96 L112.47 196.97 L112.61 196.97 L112.76 196.97 L112.90 196.97 L113.05 196.97 L113.19 196.98 L113.34 196.98 L113.48 196.98 L113.62 196.98 L113.77 196.98 L113.91 196.99 L114.06 196.99 L114.20 196.99 L114.35 196.99 L114.49 196.99 L114.63 196.99 L114.78 197.00 L114.92 197.00 L115.07 197.00 L115.21 197.00 L115.36 197.00 L115.50 197.00 L115.64 197.01 L115.79 197.01 L115.93 197.01 L116.08 197.01 L116.22 197.01 L116.37 197.01 L116.51 197.02 L116.65 197.02 L116.80 197.02 L116.94 197.02 L117.09 197.02 L117.23 197.02 L117.38 197.02 L117.52 197.03 L117.66 197.03 L117.81 197.03 L117.95 197.03 L118.10 197.03 L118.24 197.03 L118.39 197.03 L118.53 197.03 L118.67 197.04 L118.82 197.04 L118.96 197.04 L119.11 197.04 L119.25 197.04 L119.40 197.04 L119.54 197.04 L119.68 197.04 L119.83 197.04 L119.97 197.05 L120.12 197.05 L120.26 197.05 L120.41 197.05 L120.55 197.05 L120.69 197.05 L120.84 197.05 L120.98 197.05 L121.13 197.05 L121.27 197.05 L121.42 197.06 L121.56 197.06 L121.70 197.06 L121.85 197.06 L121.99 197.06 L122.14 197.06 L122.28 197.06 L122.43 197.06 L122.57 197.06 L122.71 197.06 L122.86 197.06 L123.00 197.07 L123.15 197.07 L123.29 197.07 L123.44 197.07 L123.58 197.07 L123.72 197.07 L123.87 197.07 L124.01 197.07 L124.16 197.07 L124.30 197.07 L124.45 197.07 L124.59 197.07 L124.73 197.07 L124.88 197.07 L125.02 197.08 L125.17 197.08 L125.31 197.08 L125.46 197.08 L125.60 197.08 L125.75 197.08 L125.89 197.08 L126.03 197.08 L126.18 197.08 L126.32 197.08 L126.47 197.08 L126.61 197.08 L126.76 197.08 L126.90 197.08 L127.04 197.08 L127.19 197.08 L127.33 197.08 L127.48 197.08 L127.62 197.08 L127.77 197.09 L127.91 197.09 L128.05 197.09 L128.20 197.09 L128.34 197.09 L128.49 197.09 L128.63 197.09 L128.78 197.09 L128.92 197.09 L129.06 197.09 L129.21 197.09 L129.35 197.09 L129.50 197.09 L129.64 197.09 L129.79 197.09 L129.93 197.09 L130.07 197.09 L130.22 197.09 L130.36 197.09 L130.51 197.09 L130.65 197.09 L130.80 197.09 L130.94 197.09 L131.08 197.09 L131.23 197.09 L131.37 197.09 L131.52 197.09 L131.66 197.09 L131.81 197.09 L131.95 197.09 L132.09 197.10 L132.24 197.10 L132.38 197.10 L132.53 197.10 L132.67 197.10 L132.82 197.10 L132.96 197.10 L133.10 197.10 L133.25 197.10 L133.39 197.10 L133.54 197.10 L133.68 197.10 L133.83 197.10 L133.97 197.10 L134.11 197.10 L134.26 197.10 L134.40 197.10 L134.55 197.10 L134.69 197.10 L134.84 197.10 L134.98 197.10 L135.12 197.10 L135.27 197.10 L135.41 197.10 L135.56 197.10 L135.70 197.10 L135.85 197.10 L135.99 197.10 L136.13 197.10 L136.28 197.10 L136.42 197.10 L136.57 197.10 L136.71 197.10 L136.86 197.10 L137.00 197.10 L137.14 197.10 L137.29 197.10 L137.43 197.10 L137.58 197.10 L137.72 197.10 L137.87 197.10 L138.01 197.10 L138.15 197.10 L138.30 197.10 L138.44 197.10 L138.59 197.10 L138.73 197.10 L138.88 197.10 L139.02 197.10 L139.16 197.10 L139.31 197.10 L139.45 197.10 L139.60 197.10 L139.74 197.10 L139.89 197.10 L140.03 197.10 L140.17 197.10 L140.32 197.10 L140.46 197.10 L140.61 197.10 L140.75 197.10 L140.90 197.10 L141.04 197.10 L141.19 197.10 L141.33 197.10 L141.47 197.10 L141.62 197.10 L141.76 197.09 L141.91 197.09 L142.05 197.09 L142.20 197.09 L142.34 197.09 L142.48 197.09 L142.63 197.09 L142.77 197.09 L142.92 197.09 L143.06 197.09 L143.21 197.09 L143.35 197.09 L143.49 197.09 L143.64 197.09 L143.78 197.09 L143.93 197.09 L144.07 197.09 L144.22 197.09 L144.36 197.09 L144.50 197.09 L144.65 197.09 L144.79 197.09 L144.94 197.09 L145.08 197.09 L145.23 197.09 L145.37 197.09 L145.51 197.09 L145.66 197.09 L145.80 197.09 L145.95 197.09 L146.09 197.09 L146.24 197.09 L146.38 197.09 L146.52 197.09 L146.67 197.09 L146.81 197.08 L146.96 197.08 L147.10 197.08 L147.25 197.08 L147.39 197.08 L147.53 197.08 L147.68 197.08 L147.82 197.08 L147.97 197.08 L148.11 197.08 L148.26 197.08 L148.40 197.08 L148.54 197.08 L148.69 197.08 L148.83 197.08 L148.98 197.08 L149.12 197.08 L149.27 197.08 L149.41 197.08 L149.55 197.08 L149.70 197.08 L149.84 197.08 L149.99 197.08 L150.13 197.07 L150.28 197.07 L150.42 197.07 L150.56 197.07 L150.71 197.07 L150.85 197.07 L151.00 197.07 L151.14 197.07 L151.29 197.07 L151.43 197.07 L151.57 197.07 L151.72 197.07 L151.86 197.07 L152.01 197.07 L152.15 197.07 L152.30 197.07 L152.44 197.07 L152.58 197.07 L152.73 197.07 L152.87 197.06 L153.02 197.06 L153.16 197.06 L153.31 197.06 L153.45 197.06 L153.59 197.06 L153.74 197.06 L153.88 197.06 L154.03 197.06 L154.17 197.06 L154.32 197.06 L154.46 197.06 L154.60 197.06 L154.75 197.06 L154.89 197.06 L155.04 197.06 L155.18 197.06 L155.33 197.05 L155.47 197.05 L155.62 197.05 L155.76 197.05 L155.90 197.05 L156.05 197.05 L156.19 197.05 L156.34 197.05 L156.48 197.05 L156.63 197.05 L156.77 197.05 L156.91 197.05 L157.06 197.05 L157.20 197.05 L157.35 197.04 L157.49 197.04 L157.64 197.04 L157.78 197.04 L157.92 197.04 L158.07 197.04 L158.21 197.04 L158.36 197.04 L158.50 197.04 L158.65 197.04 L158.79 197.04 L158.93 197.04 L159.08 197.04 L159.22 197.04 L159.37 197.03 L159.51 197.03 L159.66 197.03 L159.80 197.03 L159.94 197.03 L160.09 197.03 L160.23 197.03 L160.38 197.03 L160.52 197.03 L160.67 197.03 L160.81 197.03 L160.95 197.03 L161.10 197.02 L161.24 197.02 L161.39 197.02 L161.53 197.02 L161.68 197.02 L161.82 197.02 L161.96 197.02 L162.11 197.02 L162.25 197.02 L162.40 197.02 L162.54 197.02 L162.69 197.01 L162.83 197.01 L162.97 197.01 L163.12 197.01 L163.26 197.01 L163.41 197.01 L163.55 197.01 L163.70 197.01 L163.84 197.01 L163.98 197.01 L164.13 197.01 L164.27 197.00 L164.42 197.00 L164.56 197.00 L164.71 197.00 L164.85 197.00 L164.99 197.00 L165.14 197.00 L165.28 197.00 L165.43 197.00 L165.57 197.00 L165.72 196.99 L165.86 196.99 L166.00 196.99 L166.15 196.99 L166.29 196.99 L166.44 196.99 L166.58 196.99 L166.73 196.99 L166.87 196.99 L167.01 196.99 L167.16 196.98 L167.30 196.98 L167.45 196.98 L167.59 196.98 L167.74 196.98 L167.88 196.98 L168.02 196.98 L168.17 196.98 L168.31 196.98 L168.46 196.97 L168.60 196.97 L168.75 196.97 L168.89 196.97 L169.03 196.97 L169.18 196.97 L169.32 196.97 L169.47 196.97 L169.61 196.97 L169.76 196.96 L169.90 196.96 L170.05 196.96 L170.19 196.96 L170.33 196.96 L170.48 196.96 L170.62 196.96 L170.77 196.96 L170.91 196.95 L171.06 196.95 L171.20 196.95 L171.34 196.95 L171.49 196.95 L171.63 196.95 L171.78 196.95 L171.92 196.95 L172.07 196.94 L172.21 196.94 L172.35 196.94 L172.50 196.94 L172.64 196.94 L172.79 196.94 L172.93 196.94 L173.08 196.93 L173.22 196.93 L173.36 196.93 L173.51 196.93 L173.65 196.93 L173.80 196.93 L173.94 196.93 L174.09 196.93 L174.23 196.92 L174.37 196.92 L174.52 196.92 L174.66 196.92 L174.81 196.92 L174.95 196.92 L175.10 196.92 L175.24 196.91 L175.38 196.91 L175.53 196.91 L175.67 196.91 L175.82 196.91 L175.96 196.91 L176.11 196.91 L176.25 196.90 L176.39 196.90 L176.54 196.90 L176.68 196.90 L176.83 196.90 L176.97 196.90 L177.12 196.89 L177.26 196.89 L177.40 196.89 L177.55 196.89 L177.69 196.89 L177.84 196.89 L177.98 196.89 L178.13 196.88 L178.27 196.88 L178.41 196.88 L178.56 196.88 L178.70 196.88 L178.85 196.88 L178.99 196.87 L179.14 196.87 L179.28 196.87 L179.42 196.87 L179.57 196.87 L179.71 196.87 L179.86 196.86 L180.00 196.86 L180.15 196.86 L180.29 196.86 L180.43 196.86 L180.58 196.86 L180.72 196.85 L180.87 196.85 L181.01 196.85 L181.16 196.85 L181.30 196.85 L181.44 196.85 L181.59 196.84 L181.73 196.84 L181.88 196.84 L182.02 196.84 L182.17 196.84 L182.31 196.83 L182.45 196.83 L182.60 196.83 L182.74 196.83 L182.89 196.83 L183.03 196.83 L183.18 196.82 L183.32 196.82 L183.46 196.82 L183.61 196.82 L183.75 196.82 L183.90 196.81 L184.04 196.81 L184.19 196.81 L184.33 196.81 L184.48 196.81 L184.62 196.80 L184.76 196.80 L184.91 196.80 L185.05 196.80 L185.20 196.80 L185.34 196.79 L185.49 196.79 L185.63 196.79 L185.77 196.79 L185.92 196.79 L186.06 196.78 L186.21 196.78 L186.35 196.78 L186.50 196.78 L186.64 196.78 L186.78 196.77 L186.93 196.77 L187.07 196.77 L187.22 196.77 L187.36 196.76 L187.51 196.76 L187.65 196.76 L187.79 196.76 L187.94 196.76 L188.08 196.75 L188.23 196.75 L188.37 196.75 L188.52 196.75 L188.66 196.74 L188.80 196.74 L188.95 196.74 L189.09 196.74 L189.24 196.74 L189.38 196.73 L189.53 196.73 L189.67 196.73 L189.81 196.73 L189.96 196.72 L190.10 196.72 L190.25 196.72 L190.39 196.72 L190.54 196.71 L190.68 196.71 L190.82 196.71 L190.97 196.71 L191.11 196.70 L191.26 196.70 L191.40 196.70 L191.55 196.70 L191.69 196.69 L191.83 196.69 L191.98 196.69 L192.12 196.69 L192.27 196.68 L192.41 196.68 L192.56 196.68 L192.70 196.68 L192.84 196.67 L192.99 196.67 L193.13 196.67 L193.28 196.67 L193.42 196.66 L193.57 196.66 L193.71 196.66 L193.85 196.65 L194.00 196.65 L194.14 196.65 L194.29 196.65 L194.43 196.64 L194.58 196.64 L194.72 196.64 L194.86 196.63 L195.01 196.63 L195.15 196.63 L195.30 196.63 L195.44 196.62 L195.59 196.62 L195.73 196.62 L195.87 196.61 L196.02 196.61 L196.16 196.61 L196.31 196.61 L196.45 196.60 L196.60 196.60 L196.74 196.60 L196.88 196.59 L197.03 196.59 L197.17 196.59 L197.32 196.58 L197.46 196.58 L197.61 196.58 L197.75 196.57 L197.89 196.57 L198.04 196.57 L198.18 196.56 L198.33 196.56 L198.47 196.56 L198.62 196.55 L198.76 196.55 L198.91 196.55 L199.05 196.54 L199.19 196.54 L199.34 196.54 L199.48 196.53 L199.63 196.53 L199.77 196.53 L199.92 196.52 L200.06 196.52 L200.20 196.52 L200.35 196.51 L200.49 196.51 L200.64 196.51 L200.78 196.50 L200.93 196.50 L201.07 196.50 L201.21 196.49 L201.36 196.49 L201.50 196.49 L201.65 196.48 L201.79 196.48 L201.94 196.47 L202.08 196.47 L202.22 196.47 L202.37 196.46 L202.51 196.46 L202.66 196.46 L202.80 196.45 L202.95 196.45 L203.09 196.44 L203.23 196.44 L203.38 196.44 L203.52 196.43 L203.67 196.43 L203.81 196.42 L203.96 196.42 L204.10 196.42 L204.24 196.41 L204.39 196.41 L204.53 196.40 L204.68 196.40 L204.82 196.40 L204.97 196.39 L205.11 196.39 L205.25 196.38 L205.40 196.38 L205.54 196.37 L205.69 196.37 L205.83 196.37 L205.98 196.36 L206.12 196.36 L206.26 196.35 L206.41 196.35 L206.55 196.34 L206.70 196.34 L206.84 196.33 L206.99 196.33 L207.13 196.32 L207.27 196.32 L207.42 196.32 L207.56 196.31 L207.71 196.31 L207.85 196.30 L208.00 196.30 L208.14 196.29 L208.28 196.29 L208.43 196.28 L208.57 196.28 L208.72 196.27 L208.86 196.27 L209.01 196.26 L209.15 196.26 L209.29 196.25 L209.44 196.25 L209.58 196.24 L209.73 196.24 L209.87 196.23 L210.02 196.23 L210.16 196.22 L210.30 196.22 L210.45 196.21 L210.59 196.21 L210.74 196.20 L210.88 196.20 L211.03 196.19 L211.17 196.18 L211.31 196.18 L211.46 196.17 L211.60 196.17 L211.75 196.16 L211.89 196.16 L212.04 196.15 L212.18 196.15 L212.32 196.14 L212.47 196.13 L212.61 196.13 L212.76 196.12 L212.90 196.12 L213.05 196.11 L213.19 196.10 L213.34 196.10 L213.48 196.09 L213.62 196.09 L213.77 196.08 L213.91 196.07 L214.06 196.07 L214.20 196.06 L214.35 196.05 L214.49 196.05 L214.63 196.04 L214.78 196.04 L214.92 196.03 L215.07 196.02 L215.21 196.02 L215.36 196.01 L215.50 196.00 L215.64 196.00 L215.79 195.99 L215.93 195.98 L216.08 195.98 L216.22 195.97 L216.37 195.96 L216.51 195.96 L216.65 195.95 L216.80 195.94 L216.94 195.93 L217.09 195.93 L217.23 195.92 L217.38 195.91 L217.52 195.91 L217.66 195.90 L217.81 195.89 L217.95 195.88 L218.10 195.88 L218.24 195.87 L218.39 195.86 L218.53 195.85 L218.67 195.85 L218.82 195.84 L218.96 195.83 L219.11 195.82 L219.25 195.81 L219.40 195.81 L219.54 195.80 L219.68 195.79 L219.83 195.78 L219.97 195.77 L220.12 195.77 L220.26 195.76 L220.41 195.75 L220.55 195.74 L220.69 195.73 L220.84 195.72 L220.98 195.71 L221.13 195.71 L221.27 195.70 L221.42 195.69 L221.56 195.68 L221.70 195.67 L221.85 195.66 L221.99 195.65 L222.14 195.64 L222.28 195.63 L222.43 195.62 L222.57 195.61 L222.71 195.61 L222.86 195.60 L223.00 195.59 L223.15 195.58 L223.29 195.57 L223.44 195.56 L223.58 195.55 L223.72 195.54 L223.87 195.53 L224.01 195.52 L224.16 195.51 L224.30 195.50 L224.45 195.49 L224.59 195.48 L224.73 195.47 L224.88 195.46 L225.02 195.44 L225.17 195.43 L225.31 195.42 L225.46 195.41 L225.60 195.40 L225.74 195.39 L225.89 195.38 L226.03 195.37 L226.18 195.36 L226.32 195.34 L226.47 195.33 L226.61 195.32 L226.75 195.31 L226.90 195.30 L227.04 195.29 L227.19 195.27 L227.33 195.26 L227.48 195.25 L227.62 195.24 L227.77 195.23 L227.91 195.21 L228.05 195.20 L228.20 195.19 L228.34 195.17 L228.49 195.16 L228.63 195.15 L228.78 195.14 L228.92 195.12 L229.06 195.11 L229.21 195.10 L229.35 195.08 L229.50 195.07 L229.64 195.05 L229.79 195.04 L229.93 195.03 L230.07 195.01 L230.22 195.00 L230.36 194.98 L230.51 194.97 L230.65 194.95 L230.80 194.94 L230.94 194.92 L231.08 194.91 L231.23 194.89 L231.37 194.88 L231.52 194.86 L231.66 194.85 L231.81 194.83 L231.95 194.82 L232.09 194.80 L232.24 194.78 L232.38 194.77 L232.53 194.75 L232.67 194.74 L232.82 194.72 L232.96 194.70 L233.10 194.69 L233.25 194.67 L233.39 194.65 L233.54 194.63 L233.68 194.62 L233.83 194.60 L233.97 194.58 L234.11 194.56 L234.26 194.54 L234.40 194.52 L234.55 194.51 L234.69 194.49 L234.84 194.47 L234.98 194.45 L235.12 194.43 L235.27 194.41 L235.41 194.39 L235.56 194.37 L235.70 194.35 L235.85 194.33 L235.99 194.31 L236.13 194.29 L236.28 194.27 L236.42 194.25 L236.57 194.23 L236.71 194.20 L236.86 194.18 L237.00 194.16 L237.14 194.14 L237.29 194.12 L237.43 194.09 L237.58 194.07 L237.72 194.05 L237.87 194.03 L238.01 194.00 L238.15 193.98 L238.30 193.95 L238.44 193.93 L238.59 193.91 L238.73 193.88 L238.88 193.86 L239.02 193.83 L239.16 193.81 L239.31 193.78 L239.45 193.75 L239.60 193.73 L239.74 193.70 L239.89 193.67 L240.03 193.65 L240.17 193.62 L240.32 193.59 L240.46 193.56 L240.61 193.54 L240.75 193.51 L240.90 193.48 L241.04 193.45 L241.18 193.42 L241.33 193.39 L241.47 193.36 L241.62 193.33 L241.76 193.30 L241.91 193.27 L242.05 193.24 L242.20 193.20 L242.34 193.17 L242.48 193.14 L242.63 193.11 L242.77 193.07 L242.92 193.04 L243.06 193.01 L243.21 192.97 L243.35 192.94 L243.49 192.90 L243.64 192.87 L243.78 192.83 L243.93 192.79 L244.07 192.76 L244.22 192.72 L244.36 192.68 L244.50 192.64 L244.65 192.60 L244.79 192.57 L244.94 192.53 L245.08 192.49 L245.23 192.45 L245.37 192.40 L245.51 192.36 L245.66 192.32 L245.80 192.28 L245.95 192.24 L246.09 192.19 L246.24 192.15 L246.38 192.10 L246.52 192.06 L246.67 192.01 L246.81 191.97 L246.96 191.92 L247.10 191.87 L247.25 191.82 L247.39 191.78 L247.53 191.73 L247.68 191.68 L247.82 191.63 L247.97 191.58 L248.11 191.52 L248.26 191.47 L248.40 191.42 L248.54 191.36 L248.69 191.31 L248.83 191.25 L248.98 191.20 L249.12 191.14 L249.27 191.08 L249.41 191.03 L249.55 190.97 L249.70 190.91 L249.84 190.85 L249.99 190.78 L250.13 190.72 L250.28 190.66 L250.42 190.59 L250.56 190.53 L250.71 190.46 L250.85 190.40 L251.00 190.33 L251.14 190.26 L251.29 190.19 L251.43 190.12 L251.57 190.05 L251.72 189.98 L251.86 189.90 L252.01 189.83 L252.15 189.75 L252.30 189.67 L252.44 189.60 L252.58 189.52 L252.73 189.44 L252.87 189.35 L253.02 189.27 L253.16 189.19 L253.31 189.10 L253.45 189.01 L253.59 188.93 L253.74 188.84 L253.88 188.75 L254.03 188.65 L254.17 188.56 L254.32 188.46 L254.46 188.37 L254.60 188.27 L254.75 188.17 L254.89 188.07 L255.04 187.97 L255.18 187.86 L255.33 187.75 L255.47 187.65 L255.61 187.54 L255.76 187.42 L255.90 187.31 L256.05 187.20 L256.19 187.08 L256.34 186.96 L256.48 186.84 L256.63 186.71 L256.77 186.59 L256.91 186.46 L257.06 186.33 L257.20 186.20 L257.35 186.07 L257.49 185.93 L257.64 185.79 L257.78 185.65 L257.92 185.50 L258.07 185.36 L258.21 185.21 L258.36 185.06 L258.50 184.90 L258.65 184.74 L258.79 184.58 L258.93 184.42 L259.08 184.25 L259.22 184.08 L259.37 183.91 L259.51 183.73 L259.66 183.55 L259.80 183.37 L259.94 183.18 L260.09 182.99 L260.23 182.80 L260.38 182.60 L260.52 182.40 L260.67 182.20 L260.81 181.99 L260.95 181.77 L261.10 181.56 L261.24 181.33 L261.39 181.11 L261.53 180.87 L261.68 180.64 L261.82 180.40 L261.96 180.15 L262.11 179.90 L262.25 179.64 L262.40 179.38 L262.54 179.11 L262.69 178.84 L262.83 178.56 L262.97 178.27 L263.12 177.98 L263.26 177.68 L263.41 177.38 L263.55 177.07 L263.70 176.75 L263.84 176.42 L263.98 176.09 L264.13 175.75 L264.27 175.40 L264.42 175.04 L264.56 174.68 L264.71 174.31 L264.85 173.92 L264.99 173.53 L265.14 173.13 L265.28 172.72 L265.43 172.30 L265.57 171.87 L265.72 171.43 L265.86 170.98 L266.00 170.51 L266.15 170.04 L266.29 169.55 L266.44 169.05 L266.58 168.54 L266.73 168.02 L266.87 167.48 L267.01 166.93 L267.16 166.36 L267.30 165.78 L267.45 165.18 L267.59 164.57 L267.74 163.94 L267.88 163.30 L268.02 162.63 L268.17 161.95 L268.31 161.25 L268.46 160.53 L268.60 159.80 L268.75 159.04 L268.89 158.26 L269.03 157.45 L269.18 156.63 L269.32 155.78 L269.47 154.91 L269.61 154.01 L269.76 153.09 L269.90 152.14 L270.05 151.17 L270.19 150.16 L270.33 149.13 L270.48 148.06 L270.62 146.97 L270.77 145.84 L270.91 144.68 L271.06 143.48 L271.20 142.25 L271.34 140.98 L271.49 139.67 L271.63 138.33 L271.78 136.94 L271.92 135.51 L272.07 134.04 L272.21 132.53 L272.35 130.97 L272.50 129.37 L272.64 127.71 L272.79 126.01 L272.93 124.26 L273.08 122.45 L273.22 120.60 L273.36 118.69 L273.51 116.72 L273.65 114.70 L273.80 112.62 L273.94 110.48 L274.09 108.29 L274.23 106.03 L274.37 103.72 L274.52 101.34 L274.66 98.91 L274.81 96.41 L274.95 93.86 L275.10 91.24 L275.24 88.57 L275.38 85.84 L275.53 83.06 L275.67 80.22 L275.82 77.33 L275.96 74.40 L276.11 71.42 L276.25 68.40 L276.39 65.34 L276.54 62.26 L276.68 59.15 L276.83 56.03 L276.97 52.90 L277.12 49.77 L277.26 46.65 L277.40 43.54 L277.55 40.47 L277.69 37.44 L277.84 34.46 L277.98 31.55 L278.13 28.71 L278.27 25.97 L278.41 23.33 L278.56 20.82 L278.70 18.44 L278.85 16.21 L278.99 14.13 L279.14 12.24 L279.28 10.53 L279.42 9.02 L279.57 7.72 L279.71 6.64 L279.86 5.78 L280.00 5.16 L280.15 4.77 L280.29 4.62 L280.43 4.72 L280.58 5.05 L280.72 5.62 L280.87 6.43 L281.01 7.46 L281.16 8.72 L281.30 10.18 L281.44 11.85 L281.59 13.70 L281.73 15.74 L281.88 17.93 L282.02 20.28 L282.17 22.77 L282.31 25.38 L282.45 28.10 L282.60 30.92 L282.74 33.81 L282.89 36.78 L283.03 39.80 L283.18 42.86 L283.32 45.96 L283.46 49.08 L283.61 52.21 L283.75 55.34 L283.90 58.47 L284.04 61.58 L284.19 64.67 L284.33 67.73 L284.48 70.76 L284.62 73.74 L284.76 76.69 L284.91 79.59 L285.05 82.44 L285.20 85.23 L285.34 87.98 L285.49 90.66 L285.63 93.29 L285.77 95.86 L285.92 98.37 L286.06 100.81 L286.21 103.20 L286.35 105.53 L286.50 107.80 L286.64 110.01 L286.78 112.16 L286.93 114.25 L287.07 116.28 L287.22 118.26 L287.36 120.18 L287.51 122.05 L287.65 123.87 L287.79 125.63 L287.94 127.34 L288.08 129.01 L288.23 130.62 L288.37 132.19 L288.52 133.72 L288.66 135.20 L288.80 136.63 L288.95 138.03 L289.09 139.38 L289.24 140.70 L289.38 141.97 L289.53 143.21 L289.67 144.42 L289.81 145.59 L289.96 146.72 L290.10 147.83 L290.25 148.90 L290.39 149.94 L290.54 150.95 L290.68 151.93 L290.82 152.89 L290.97 153.82 L291.11 154.72 L291.26 155.60 L291.40 156.45 L291.55 157.28 L291.69 158.08 L291.83 158.87 L291.98 159.63 L292.12 160.38 L292.27 161.10 L292.41 161.80 L292.56 162.49 L292.70 163.15 L292.84 163.80 L292.99 164.44 L293.13 165.05 L293.28 165.65 L293.42 166.24 L293.57 166.81 L293.71 167.36 L293.85 167.90 L294.00 168.43 L294.14 168.94 L294.29 169.45 L294.43 169.94 L294.58 170.41 L294.72 170.88 L294.86 171.33 L295.01 171.78 L295.15 172.21 L295.30 172.63 L295.44 173.04 L295.59 173.45 L295.73 173.84 L295.87 174.23 L296.02 174.60 L296.16 174.97 L296.31 175.33 L296.45 175.68 L296.60 176.02 L296.74 176.35 L296.88 176.68 L297.03 177.00 L297.17 177.32 L297.32 177.62 L297.46 177.92 L297.61 178.21 L297.75 178.50 L297.89 178.78 L298.04 179.06 L298.18 179.33 L298.33 179.59 L298.47 179.85 L298.62 180.10 L298.76 180.35 L298.90 180.59 L299.05 180.83 L299.19 181.06 L299.34 181.29 L299.48 181.51 L299.63 181.73 L299.77 181.95 L299.92 182.16 L300.06 182.36 L300.20 182.56 L300.35 182.76 L300.49 182.96 L300.64 183.15 L300.78 183.34 L300.93 183.52 L301.07 183.70 L301.21 183.88 L301.36 184.05 L301.50 184.22 L301.65 184.39 L301.79 184.55 L301.94 184.71 L302.08 184.87 L302.22 185.03 L302.37 185.18 L302.51 185.33 L302.66 185.48 L302.80 185.62 L302.95 185.76 L303.09 185.90 L303.23 186.04 L303.38 186.18 L303.52 186.31 L303.67 186.44 L303.81 186.57 L303.96 186.69 L304.10 186.82 L304.24 186.94 L304.39 187.06 L304.53 187.18 L304.68 187.29 L304.82 187.41 L304.97 187.52 L305.11 187.63 L305.25 187.74 L305.40 187.84 L305.54 187.95 L305.69 188.05 L305.83 188.15 L305.98 188.25 L306.12 188.35 L306.26 188.45 L306.41 188.55 L306.55 188.64 L306.70 188.73 L306.84 188.82 L306.99 188.91 L307.13 189.00 L307.27 189.09 L307.42 189.18 L307.56 189.26 L307.71 189.34 L307.85 189.42 L308.00 189.51 L308.14 189.59 L308.28 189.66 L308.43 189.74 L308.57 189.82 L308.72 189.89 L308.86 189.97 L309.01 190.04 L309.15 190.11 L309.29 190.18 L309.44 190.25 L309.58 190.32 L309.73 190.39 L309.87 190.46 L310.02 190.52 L310.16 190.59 L310.30 190.65 L310.45 190.72 L310.59 190.78 L310.74 190.84 L310.88 190.90 L311.03 190.96 L311.17 191.02 L311.31 191.08 L311.46 191.14 L311.60 191.19 L311.75 191.25 L311.89 191.31 L312.04 191.36 L312.18 191.41 L312.32 191.47 L312.47 191.52 L312.61 191.57 L312.76 191.62 L312.90 191.67 L313.05 191.72 L313.19 191.77 L313.33 191.82 L313.48 191.87 L313.62 191.92 L313.77 191.97 L313.91 192.01 L314.06 192.06 L314.20 192.10 L314.35 192.15 L314.49 192.19 L314.63 192.24 L314.78 192.28 L314.92 192.32 L315.07 192.36 L315.21 192.41 L315.36 192.45 L315.50 192.49 L315.64 192.53 L315.79 192.57 L315.93 192.61 L316.08 192.64 L316.22 192.68 L316.37 192.72 L316.51 192.76 L316.65 192.80 L316.80 192.83 L316.94 192.87 L317.09 192.90 L317.23 192.94 L317.38 192.97 L317.52 193.01 L317.66 193.04 L317.81 193.08 L317.95 193.11 L318.10 193.14 L318.24 193.18 L318.39 193.21 L318.53 193.24 L318.67 193.27 L318.82 193.30 L318.96 193.33 L319.11 193.36 L319.25 193.39 L319.40 193.42 L319.54 193.45 L319.68 193.48 L319.83 193.51 L319.97 193.54 L320.12 193.57 L320.26 193.60 L320.41 193.62 L320.55 193.65" fill="none" stroke="#111" stroke-width="1.35" stroke-linejoin="round"/>
<rect x="25.90" y="0.35" width="300.70" height="200.85" fill="none" stroke="#a8a8a8" stroke-width="1"/>
<line x1="72.35" x2="72.35" y1="197.30" y2="201.20" stroke="#666" stroke-width="1"/>
<line x1="104.10" x2="104.10" y1="197.30" y2="201.20" stroke="#666" stroke-width="1"/>
<line x1="118.53" x2="118.53" y1="197.30" y2="201.20" stroke="#666" stroke-width="1"/>
<line x1="233.97" x2="233.97" y1="197.30" y2="201.20" stroke="#666" stroke-width="1"/>
<line x1="248.40" x2="248.40" y1="197.30" y2="201.20" stroke="#666" stroke-width="1"/>
<line x1="280.15" x2="280.15" y1="197.30" y2="201.20" stroke="#666" stroke-width="1"/>
<line x1="176.25" x2="176.25" y1="197.30" y2="201.20" stroke="#666" stroke-width="1"/>
<line x1="25.90" x2="30.10" y1="197.30" y2="197.30" stroke="#666" stroke-width="1"/>
<line x1="25.90" x2="30.10" y1="92.15" y2="92.15" stroke="#666" stroke-width="1"/>
<line x1="25.90" x2="30.10" y1="8.03" y2="8.03" stroke="#cfcfcf" stroke-width="1"/>
<text transform="translate(31.95,212.7) scale(0.86,1)" font-family="Liberation Serif, serif" text-rendering="geometricPrecision" font-size="9.6" text-anchor="middle" fill="#000">2</text>
<text transform="translate(72.35,212.7) scale(0.86,1)" font-family="Liberation Serif, serif" text-rendering="geometricPrecision" font-size="9.6" text-anchor="middle" fill="#000">3.4</text>
<text transform="translate(104.10,212.7) scale(0.86,1)" font-family="Liberation Serif, serif" text-rendering="geometricPrecision" font-size="9.6" text-anchor="middle" fill="#000">4.5</text>
<text transform="translate(118.53,212.7) scale(0.86,1)" font-family="Liberation Serif, serif" text-rendering="geometricPrecision" font-size="9.6" text-anchor="middle" fill="#000">5</text>
<text transform="translate(176.25,212.7) scale(0.86,1)" font-family="Liberation Serif, serif" text-rendering="geometricPrecision" font-size="9.6" text-anchor="middle" fill="#000">7</text>
<text transform="translate(233.97,212.7) scale(0.86,1)" font-family="Liberation Serif, serif" text-rendering="geometricPrecision" font-size="9.6" text-anchor="middle" fill="#000">9</text>
<text transform="translate(248.40,212.7) scale(0.86,1)" font-family="Liberation Serif, serif" text-rendering="geometricPrecision" font-size="9.6" text-anchor="middle" fill="#000">9.5</text>
<text transform="translate(280.15,212.7) scale(0.86,1)" font-family="Liberation Serif, serif" text-rendering="geometricPrecision" font-size="9.6" text-anchor="middle" fill="#000">10.6</text>
<text transform="translate(320.55,212.7) scale(0.86,1)" font-family="Liberation Serif, serif" text-rendering="geometricPrecision" font-size="9.6" text-anchor="middle" fill="#000">12</text>
<text transform="translate(23.0,200.50) scale(0.86,1)" font-family="Liberation Serif, serif" text-rendering="geometricPrecision" font-size="9.6" text-anchor="end" fill="#000">0</text>
<text transform="translate(23.0,95.35) scale(0.86,1)" font-family="Liberation Serif, serif" text-rendering="geometricPrecision" font-size="9.6" text-anchor="end" fill="#000">0.5</text>
<text transform="translate(23.0,11.23) scale(0.86,1)" font-family="Liberation Serif, serif" text-rendering="geometricPrecision" font-size="9.6" text-anchor="end" fill="#000">0.9</text>
<text x="168.20" y="21.85" font-family="Liberation Serif, serif" text-rendering="geometricPrecision" font-size="10.5" font-style="italic" fill="#0a0ab4">τ</text>
<text transform="translate(172.60,21.85) scale(0.86,1)" font-family="Liberation Serif, serif" text-rendering="geometricPrecision" font-size="9.6" fill="#0a0ab4">=</text>
<text transform="translate(180.00,21.85) scale(0.86,1)" font-family="Liberation Serif, serif" text-rendering="geometricPrecision" font-size="9.6" fill="#0a0ab4">0</text>
<text x="166.40" y="42.95" font-family="Liberation Serif, serif" text-rendering="geometricPrecision" font-size="10.5" font-style="italic" fill="#b40a0a">τ</text>
<text transform="translate(170.20,42.95) scale(0.86,1)" font-family="Liberation Serif, serif" text-rendering="geometricPrecision" font-size="9.6" fill="#b40a0a">=</text>
<text transform="translate(175.20,42.95) scale(0.86,1)" font-family="Liberation Serif, serif" text-rendering="geometricPrecision" font-size="9.6" fill="#b40a0a">1.5</text>
<text x="169.30" y="63.95" font-family="Liberation Serif, serif" text-rendering="geometricPrecision" font-size="10.5" font-style="italic" fill="#111">τ</text>
<text transform="translate(173.30,63.95) scale(0.86,1)" font-family="Liberation Serif, serif" text-rendering="geometricPrecision" font-size="9.6" fill="#111">=</text>
<text transform="translate(178.10,63.95) scale(0.86,1)" font-family="Liberation Serif, serif" text-rendering="geometricPrecision" font-size="9.6" fill="#111">3</text>
<text transform="translate(167.9,224.6) scale(0.9,1)" font-family="Liberation Serif, serif" text-rendering="geometricPrecision" font-size="9" font-weight="bold" fill="#000">ϵ</text>
<text x="171.2" y="226.8" font-family="Liberation Serif, serif" text-rendering="geometricPrecision" font-size="6.6" font-style="italic" fill="#000">k</text>
<line x1="167.9" x2="175.8" y1="231.9" y2="231.9" stroke="#333" stroke-width="1.3"/>
<text transform="translate(169.0,243.5) scale(0.88,1)" font-family="Liberation Serif, serif" text-rendering="geometricPrecision" font-size="9" font-weight="bold" fill="#000">Γ</text>
<path d="M179 231.8 H183.6" fill="none" stroke="#111" stroke-width="1"/>
<path d="M185 231.8 L182.4 230.3 L183 231.8 L182.4 233.3 Z" fill="#111" stroke="#111" stroke-width="0.3"/>
<text transform="translate(7.9,108.0) rotate(-90) scale(0.9,1)" font-family="Liberation Serif, serif" text-rendering="geometricPrecision" font-size="9" font-weight="bold" fill="#000" stroke="#000" stroke-width="0.3">T</text>
<path d="M5.3 99.0 V93.6" fill="none" stroke="#111" stroke-width="1"/>
<path d="M5.3 92.3 L3.8 94.9 L5.3 94.3 L6.8 94.9 Z" fill="#111" stroke="#111" stroke-width="0.3"/>
</svg>
</body></html>
